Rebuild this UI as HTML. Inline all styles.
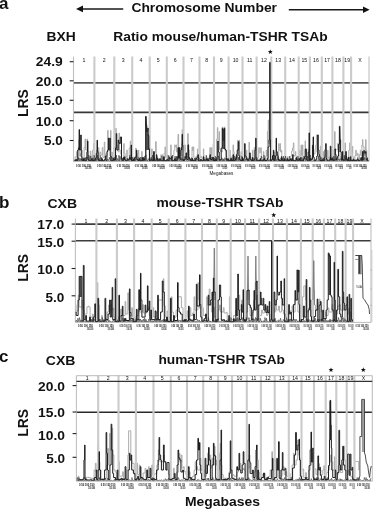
<!DOCTYPE html>
<html><head><meta charset="utf-8"><style>
html,body{margin:0;padding:0;background:#fff;width:376px;height:510px;overflow:hidden}
svg{display:block;will-change:transform;filter:blur(0.35px)}
text{font-family:"Liberation Sans", sans-serif;fill:#111}
</style></head><body>
<svg width="376" height="510" viewBox="0 0 376 510">
<text x="-1" y="8.8" font-size="17" font-weight="bold">a</text>
<text x="131.4" y="12.2" font-size="13.3" textLength="145.6" lengthAdjust="spacingAndGlyphs" font-weight="bold">Chromosome Number</text>
<line x1="82" y1="8.9" x2="123.2" y2="8.9" stroke="#1a1a1a" stroke-width="1.5"/><path d="M76,8.9 L83,5.6 L83,12.2 Z" fill="#111"/>
<line x1="288.8" y1="9.7" x2="364" y2="9.7" stroke="#1a1a1a" stroke-width="1.5"/><path d="M369.6,9.7 L363,6.4 L363,13 Z" fill="#111"/>
<text x="46.5" y="40.7" font-size="13" textLength="29.2" lengthAdjust="spacingAndGlyphs" font-weight="bold">BXH</text>
<text x="113.3" y="40.8" font-size="13" textLength="214.3" lengthAdjust="spacingAndGlyphs" font-weight="bold">Ratio mouse/human-TSHR TSAb</text>
<text x="-1" y="207.6" font-size="17" font-weight="bold">b</text>
<text x="47.5" y="207.6" font-size="13" textLength="29.6" lengthAdjust="spacingAndGlyphs" font-weight="bold">CXB</text>
<text x="156.5" y="207.2" font-size="13" textLength="127" lengthAdjust="spacingAndGlyphs" font-weight="bold">mouse-TSHR TSAb</text>
<text x="-1" y="362.2" font-size="17" font-weight="bold">c</text>
<text x="45.8" y="365" font-size="13" textLength="29.6" lengthAdjust="spacingAndGlyphs" font-weight="bold">CXB</text>
<text x="158.4" y="364.3" font-size="13" textLength="126.6" lengthAdjust="spacingAndGlyphs" font-weight="bold">human-TSHR TSAb</text>
<text x="185" y="506" font-size="13.2" textLength="75" lengthAdjust="spacingAndGlyphs" font-weight="bold">Megabases</text>
<text x="209.5" y="174.6" font-size="5" fill="#555" textLength="23.9" lengthAdjust="spacingAndGlyphs">Megabases</text>
<text transform="translate(27.6,103.2) rotate(-90)" font-size="13.8" font-weight="bold" text-anchor="middle">LRS</text>
<text transform="translate(27.6,267.9) rotate(-90)" font-size="13.8" font-weight="bold" text-anchor="middle">LRS</text>
<text transform="translate(27.6,422.9) rotate(-90)" font-size="13.8" font-weight="bold" text-anchor="middle">LRS</text>
<line x1="73.5" y1="82.95" x2="369" y2="82.95" stroke="#5c5c5c" stroke-width="1.8"/>
<line x1="73.5" y1="112.4" x2="369" y2="112.4" stroke="#383838" stroke-width="1.6"/>
<polyline points="74.50,159.5 75.01,159.5 75.01,156.9 75.45,156.9 75.45,156.9 76.48,156.9 76.48,151.5 76.89,151.5 76.89,160.4 77.80,160.4 77.80,159.5 78.70,159.5 78.70,140.0 79.30,140.0 79.30,156.0 80.70,156.0 80.70,153.5 81.70,153.5 81.70,150.0 82.22,150.0 82.22,160.1 83.28,160.1 83.28,159.5 84.13,159.5 84.13,147.5 85.03,147.5 85.03,139.0 85.60,139.0 85.60,150.0 87.00,150.0 87.00,139.0 87.48,139.0 87.48,151.1 88.08,151.1 88.08,156.0 88.81,156.0 88.81,159.3 90.28,159.3 90.28,151.0 90.81,151.0 90.81,155.7 91.51,155.7 91.51,159.5 92.70,159.5 92.70,150.0 93.70,150.0 93.70,143.6 94.22,143.6 94.22,156.4 94.97,156.4 94.97,159.5 96.03,159.5 96.03,157.2 96.78,157.2 96.78,150.0 97.24,150.0 97.24,159.7 98.36,159.7 98.36,147.5 98.88,147.5 98.88,154.3 100.22,154.3 100.22,152.0 100.81,152.0 100.81,154.9 102.28,154.9 102.28,147.5 102.87,147.5 102.87,157.4 104.27,157.4 104.27,142.0 104.81,142.0 104.81,153.7 105.51,153.7 105.51,156.0 106.67,156.0 106.67,155.7 107.62,155.7 107.62,130.3 108.11,130.3 108.11,145.7 108.81,145.7 108.81,150.0 109.83,150.0 109.83,149.3 110.58,149.3 110.58,130.3 110.98,130.3 110.98,157.6 111.82,157.6 111.82,152.0 112.22,152.0 112.22,155.7 112.97,155.7 112.97,159.5 114.06,159.5 114.06,146.3 114.54,146.3 114.54,154.2 115.66,154.2 115.66,128.3 116.23,128.3 116.23,145.0 117.30,145.0 117.30,150.0 118.18,150.0 118.18,151.8 119.02,151.8 119.02,133.0 119.44,133.0 119.44,150.0 120.30,150.0 120.30,153.9 121.30,153.9 121.30,158.6 122.30,158.6 122.30,160.0 123.70,160.0 123.70,143.6 124.22,143.6 124.22,153.0 124.97,153.0 124.97,156.0 125.72,156.0 125.72,159.6 126.78,159.6 126.78,150.0 127.22,150.0 127.22,160.2 128.28,160.2 128.28,158.6 129.24,158.6 129.24,147.9 130.28,147.9 130.28,141.0 130.87,141.0 130.87,156.0 131.72,156.0 131.72,159.0 132.47,159.0 132.47,159.5 133.70,159.5 133.70,157.0 134.30,157.0 134.30,159.5 135.70,159.5 135.70,148.2 136.19,148.2 136.19,153.0 136.84,153.0 136.84,158.6 137.75,158.6 137.75,154.7 138.41,154.7 138.41,150.2 138.81,150.2 138.81,160.6 139.79,160.6 139.79,159.5 140.66,159.5 140.66,159.2 141.62,159.2 141.62,151.5 142.14,151.5 142.14,160.7 143.26,160.7 143.26,159.5 143.72,159.5 143.72,160.0 144.78,160.0 144.78,156.0 145.22,156.0 145.22,159.9 146.28,159.9 146.28,145.0 146.81,145.0 146.81,147.2 148.28,147.2 148.28,135.6 148.87,135.6 148.87,150.0 149.74,150.0 149.74,158.3 150.54,158.3 150.54,159.7 151.66,159.7 151.66,148.9 152.23,148.9 152.23,158.6 153.29,158.6 153.29,160.0 154.64,160.0 154.64,152.3 155.61,152.3 155.61,141.6 156.23,141.6 156.23,156.0 157.30,156.0 157.30,160.0 158.70,160.0 158.70,159.5 159.77,159.5 159.77,159.3 160.87,159.3 160.87,154.7 161.39,154.7 161.39,156.8 162.31,156.8 162.31,154.7 162.80,154.7 162.80,159.5 164.09,159.5 164.09,153.4 164.94,153.4 164.94,146.9 165.50,146.9 165.50,157.4 166.47,157.4 166.47,159.6 167.73,159.6 167.73,159.5 168.70,159.5 168.70,155.9 169.30,155.9 169.30,156.3 170.70,156.3 170.70,144.9 171.22,144.9 171.22,160.3 172.28,160.3 172.28,157.4 173.08,157.4 173.08,155.2 173.92,155.2 173.92,150.3 174.75,150.3 174.75,144.9 175.19,144.9 175.19,146.8 176.11,146.8 176.11,144.9 176.60,144.9 176.60,152.0 178.00,152.0 178.00,134.3 178.60,134.3 178.60,150.0 179.56,150.0 179.56,152.3 180.41,152.3 180.41,156.0 181.46,156.0 181.46,143.6 182.11,143.6 182.11,129.6 182.51,129.6 182.51,150.0 183.30,150.0 183.30,150.8 184.70,150.8 184.70,144.9 185.19,144.9 185.19,158.0 186.11,158.0 186.11,157.4 186.86,157.4 186.86,157.1 187.66,157.1 187.66,133.6 188.23,133.6 188.23,150.0 189.22,150.0 189.22,158.9 190.28,158.9 190.28,158.6 190.77,158.6 190.77,159.9 192.03,159.9 192.03,146.9 192.50,146.9 192.50,150.6 193.41,150.6 193.41,146.9 193.78,146.9 193.78,157.8 194.38,157.8 194.38,158.6 195.03,158.6 195.03,159.5 196.08,159.5 196.08,156.0 196.50,156.0 196.50,157.2 197.41,157.2 197.41,148.9 197.78,148.9 197.78,155.1 198.38,155.1 198.38,158.6 199.36,158.6 199.36,140.9 199.81,140.9 199.81,157.7 200.79,157.7 200.79,156.0 201.26,156.0 201.26,157.7 202.13,157.7 202.13,159.0 203.34,159.0 203.34,148.9 203.78,148.9 203.78,157.5 204.38,157.5 204.38,158.6 205.01,158.6 205.01,160.2 205.99,160.2 205.99,156.7 206.47,156.7 206.47,160.6 207.73,160.6 207.73,159.5 208.77,159.5 208.77,157.8 209.87,157.8 209.87,147.6 210.39,147.6 210.39,155.5 211.31,155.5 211.31,147.6 211.80,147.6 211.80,157.4 213.20,157.4 213.20,143.6 213.80,143.6 213.80,157.4 214.72,157.4 214.72,160.7 215.78,160.7 215.78,158.6 216.56,158.6 216.56,139.2 217.36,139.2 217.36,127.6 217.87,127.6 217.87,140.0 219.06,140.0 219.06,131.6 219.60,131.6 219.60,150.0 220.48,150.0 220.48,151.5 221.08,151.5 221.08,152.0 222.27,152.0 222.27,127.0 222.90,127.0 222.90,145.0 224.30,145.0 224.30,127.0 224.87,127.0 224.87,150.0 225.83,150.0 225.83,156.7 226.81,156.7 226.81,160.7 227.79,160.7 227.79,159.5 228.70,159.5 228.70,159.2 229.70,159.2 229.70,150.2 230.22,150.2 230.22,155.8 230.97,155.8 230.97,158.6 232.13,158.6 232.13,157.9 233.03,157.9 233.03,144.9 233.48,144.9 233.48,151.6 234.08,151.6 234.08,157.4 234.72,157.4 234.72,159.0 235.47,159.0 235.47,159.5 236.70,159.5 236.70,153.8 237.70,153.8 237.70,140.2 238.19,140.2 238.19,150.0 239.11,150.0 239.11,140.2 239.60,140.2 239.60,156.0 241.00,156.0 241.00,151.5 241.48,151.5 241.48,155.8 242.08,155.8 242.08,158.6 242.72,158.6 242.72,159.5 243.78,159.5 243.78,158.6 244.26,158.6 244.26,160.2 245.47,160.2 245.47,159.1 246.34,159.1 246.34,150.2 246.81,150.2 246.81,159.8 247.79,159.8 247.79,157.4 248.18,157.4 248.18,157.9 249.02,157.9 249.02,142.2 249.36,142.2 249.36,159.1 250.14,159.1 250.14,156.0 250.53,156.0 250.53,159.1 251.30,159.1 251.30,160.2 252.37,160.2 252.37,150.2 252.90,150.2 252.90,158.6 254.23,158.6 254.23,147.6 254.80,147.6 254.80,157.4 255.80,157.4 255.80,159.8 257.20,159.8 257.20,158.6 258.02,158.6 258.02,156.9 258.77,156.9 258.77,147.6 259.30,147.6 259.30,152.7 260.70,152.7 260.70,147.6 261.30,147.6 261.30,157.4 262.24,157.4 262.24,157.8 263.36,157.8 263.36,151.5 263.81,151.5 263.81,160.1 264.79,160.1 264.79,158.6 265.52,158.6 265.52,156.6 266.27,156.6 266.27,150.0 266.67,150.0 266.67,156.4 267.44,156.4 267.44,131.6 268.23,131.6 268.23,120.0 268.77,120.0 268.77,143.3 270.03,143.3 270.03,131.6 270.51,131.6 270.51,150.0 271.23,150.0 271.23,159.7 272.27,159.7 272.27,158.6 272.80,158.6 272.80,159.1 274.20,159.1 274.20,152.0 274.73,152.0 274.73,158.6 275.48,158.6 275.48,159.5 276.70,159.5 276.70,151.1 277.30,151.1 277.30,155.4 278.70,155.4 278.70,143.6 279.19,143.6 279.19,150.2 280.11,150.2 280.11,143.6 280.51,143.6 280.51,152.0 281.42,152.0 281.42,150.2 281.81,150.2 281.81,160.4 282.79,160.4 282.79,158.6 283.23,158.6 283.23,160.3 284.27,160.3 284.27,156.0 284.80,156.0 284.80,159.5 285.81,159.5 285.81,160.3 287.29,160.3 287.29,156.7 287.81,156.7 287.81,160.6 288.79,160.6 288.79,159.5 289.70,159.5 289.70,159.1 290.70,159.1 290.70,156.0 291.61,156.0 291.61,151.0 292.47,151.0 292.47,148.0 293.34,148.0 293.34,142.9 293.87,142.9 293.87,156.0 294.88,156.0 294.88,155.0 295.44,155.0 295.44,151.5 295.81,151.5 295.81,156.3 296.51,156.3 296.51,159.5 297.30,159.5 297.30,159.9 298.70,159.9 298.70,158.6 299.54,158.6 299.54,150.1 300.00,150.1 300.00,159.7 301.07,159.7 301.07,144.9 301.51,144.9 301.51,155.3 302.49,155.3 302.49,144.9 302.89,144.9 302.89,159.4 303.81,159.4 303.81,156.0 304.45,156.0 304.45,149.7 305.11,149.7 305.11,140.9 305.48,140.9 305.48,151.0 306.08,151.0 306.08,152.0 306.81,152.0 306.81,157.8 308.29,157.8 308.29,148.9 308.81,148.9 308.81,157.8 309.79,157.8 309.79,157.4 310.23,157.4 310.23,159.8 311.27,159.8 311.27,158.6 311.73,158.6 311.73,158.7 312.77,158.7 312.77,150.0 313.23,150.0 313.23,153.5 314.00,153.5 314.00,153.9 315.07,153.9 315.07,148.9 315.79,148.9 315.79,145.0 316.42,145.0 316.42,134.9 316.87,134.9 316.87,152.0 317.73,152.0 317.73,155.9 318.48,155.9 318.48,158.6 319.24,158.6 319.24,159.5 320.36,159.5 320.36,146.2 320.87,146.2 320.87,157.4 321.77,157.4 321.77,160.0 323.03,160.0 323.03,151.5 323.48,151.5 323.48,155.9 324.08,155.9 324.08,158.6 325.02,158.6 325.02,154.9 325.77,154.9 325.77,150.0 326.28,150.0 326.28,157.9 327.62,157.9 327.62,150.2 328.06,150.2 328.06,157.0 328.62,157.0 328.62,158.6 329.23,158.6 329.23,160.3 330.27,160.3 330.27,156.0 330.71,156.0 330.71,160.0 331.69,160.0 331.69,154.7 332.17,154.7 332.17,158.6 332.98,158.6 332.98,159.6 333.82,159.6 333.82,150.0 334.56,150.0 334.56,131.6 335.10,131.6 335.10,150.0 336.54,150.0 336.54,149.7 337.58,149.7 337.58,143.6 338.17,143.6 338.17,152.0 338.98,152.0 338.98,159.9 339.82,159.9 339.82,158.6 340.52,158.6 340.52,158.2 341.27,158.2 341.27,156.0 341.80,156.0 341.80,159.5 343.02,159.5 343.02,158.8 343.77,158.8 343.77,157.4 344.42,157.4 344.42,155.1 345.02,155.1 345.02,142.9 345.37,142.9 345.37,156.1 346.13,156.1 346.13,156.0 346.56,156.0 346.56,158.8 347.75,158.8 347.75,158.6 348.66,158.6 348.66,150.3 349.62,150.3 349.62,142.9 350.17,142.9 350.17,157.4 351.43,157.4 351.43,152.6 352.33,152.6 352.33,146.2 352.78,146.2 352.78,156.9 353.38,156.9 353.38,158.6 353.98,158.6 353.98,160.7 354.82,160.7 354.82,156.0 355.70,156.0 355.70,150.2 356.28,150.2 356.28,155.3 357.56,155.3 357.56,153.3 358.12,153.3 358.12,159.9 359.40,159.9 359.40,154.8 360.32,154.8 360.32,150.2 360.87,150.2 360.87,156.0 361.92,156.0 361.92,145.0 362.45,145.0 362.45,139.6 362.93,139.6 362.93,146.5 364.03,146.5 364.03,155.1 365.57,155.1 365.57,139.6 366.08,139.6 366.08,150.0 366.80,150.0 366.80,158.6 367.80,158.6 367.80,159.5 368.50,159.5" fill="none" stroke="#acacac" stroke-width="1.0" stroke-linejoin="round"/>
<line x1="73.5" y1="56.5" x2="73.5" y2="161.5" stroke="#c0c0c0" stroke-width="1.1"/>
<line x1="94.4" y1="56.5" x2="94.4" y2="161.5" stroke="#cbcbcb" stroke-width="2.1"/>
<line x1="114.3" y1="56.5" x2="114.3" y2="161.5" stroke="#cbcbcb" stroke-width="2.1"/>
<line x1="132.2" y1="56.5" x2="132.2" y2="161.5" stroke="#cbcbcb" stroke-width="2.1"/>
<line x1="149.7" y1="56.5" x2="149.7" y2="161.5" stroke="#cbcbcb" stroke-width="2.1"/>
<line x1="166.8" y1="56.5" x2="166.8" y2="161.5" stroke="#cbcbcb" stroke-width="2.1"/>
<line x1="183.5" y1="56.5" x2="183.5" y2="161.5" stroke="#cbcbcb" stroke-width="2.1"/>
<line x1="199.5" y1="56.5" x2="199.5" y2="161.5" stroke="#cbcbcb" stroke-width="2.1"/>
<line x1="214" y1="56.5" x2="214" y2="161.5" stroke="#cbcbcb" stroke-width="2.1"/>
<line x1="228.6" y1="56.5" x2="228.6" y2="161.5" stroke="#cbcbcb" stroke-width="2.1"/>
<line x1="242.5" y1="56.5" x2="242.5" y2="161.5" stroke="#cbcbcb" stroke-width="2.1"/>
<line x1="256.6" y1="56.5" x2="256.6" y2="161.5" stroke="#cbcbcb" stroke-width="2.1"/>
<line x1="271.3" y1="56.5" x2="271.3" y2="161.5" stroke="#cbcbcb" stroke-width="2.1"/>
<line x1="285.2" y1="56.5" x2="285.2" y2="161.5" stroke="#cbcbcb" stroke-width="2.1"/>
<line x1="298.7" y1="56.5" x2="298.7" y2="161.5" stroke="#cbcbcb" stroke-width="2.1"/>
<line x1="309.9" y1="56.5" x2="309.9" y2="161.5" stroke="#cbcbcb" stroke-width="2.1"/>
<line x1="321.8" y1="56.5" x2="321.8" y2="161.5" stroke="#cbcbcb" stroke-width="2.1"/>
<line x1="332.4" y1="56.5" x2="332.4" y2="161.5" stroke="#cbcbcb" stroke-width="2.1"/>
<line x1="343.4" y1="56.5" x2="343.4" y2="161.5" stroke="#cbcbcb" stroke-width="2.1"/>
<line x1="351.1" y1="56.5" x2="351.1" y2="161.5" stroke="#cbcbcb" stroke-width="2.1"/>
<line x1="369" y1="56.5" x2="369" y2="161.5" stroke="#c0c0c0" stroke-width="1.1"/>
<polygon points="145.4,117 146.3,116.5 147.4,131 148.7,135.5 149.2,150 145.4,150" fill="#505050"/>
<polygon points="222.4,129 224.8,129 225,149 222.4,149" fill="#505050"/>
<polygon points="339.2,127 340.1,126.5 340.6,141 340.3,152 339.2,152" fill="#505050"/>
<polyline points="74.00,161.1 74.35,160.1 75.51,161.1 75.86,159.1 77.07,161.1 77.42,160.1 78.28,161.1 78.63,157.6 79.61,161.1 79.96,158.1 80.89,161.1 81.24,158.6 81.92,161.1 82.27,158.6 83.52,161.1 83.87,157.6 85.17,161.1 85.52,157.6 86.77,161.1 87.12,157.1 88.40,161.1 88.75,155.1 90.10,161.1 90.45,156.1 91.21,161.1 91.56,160.1 92.66,161.1 93.01,157.6 93.77,161.1 94.12,155.1 95.03,161.1 95.38,159.6 95.95,161.1 96.30,158.6 97.08,161.1 97.43,155.1 98.70,161.1 99.05,158.1 99.79,161.1 100.14,155.1 100.90,161.1 101.25,157.1 101.91,161.1 102.26,159.1 103.16,161.1 103.51,160.1 104.87,161.1 105.22,160.6 106.25,161.1 106.60,160.1 107.49,161.1 107.84,159.1 108.97,161.1 109.32,157.1 110.64,161.1 110.99,156.1 112.21,161.1 112.56,157.6 113.93,161.1 114.28,157.1 114.90,161.1 115.25,158.6 116.05,161.1 116.40,155.1 116.99,161.1 117.34,158.6 118.53,161.1 118.88,155.1 119.62,161.1 119.97,156.1 120.93,161.1 121.28,160.6 122.06,161.1 122.41,158.1 123.84,161.1 124.19,159.1 125.19,161.1 125.54,160.6 126.86,161.1 127.21,158.1 128.36,161.1 128.71,160.1 129.48,161.1 129.83,155.1 131.00,161.1 131.35,159.6 131.99,161.1 132.34,157.1 133.01,161.1 133.36,158.6 133.98,161.1 134.33,158.1 135.47,161.1 135.82,157.1 137.07,161.1 137.42,159.1 138.47,161.1 138.82,157.1 140.27,161.1 140.62,157.1 141.70,161.1 142.05,157.1 143.17,161.1 143.52,157.6 144.35,161.1 144.70,158.1 145.61,161.1 145.96,155.1 146.81,161.1 147.16,160.1 147.82,161.1 148.17,158.6 149.60,161.1 149.95,158.1 150.87,161.1 151.22,157.1 152.19,161.1 152.54,155.1 153.40,161.1 153.75,156.1 154.35,161.1 154.70,157.6 156.02,161.1 156.37,160.6 157.12,161.1 157.47,158.1 158.16,161.1 158.51,158.6 159.66,161.1 160.01,160.1 161.45,161.1 161.80,156.1 163.14,161.1 163.49,158.6 164.39,161.1 164.74,160.6 166.05,161.1 166.40,159.6 167.85,161.1 168.20,155.1 169.32,161.1 169.67,160.1 170.54,161.1 170.89,158.6 172.03,161.1 172.38,155.1 173.08,161.1 173.43,160.1 174.58,161.1 174.93,156.1 175.84,161.1 176.19,156.1 176.97,161.1 177.32,157.1 177.92,161.1 178.27,156.1 179.26,161.1 179.61,160.1 180.77,161.1 181.12,157.6 181.88,161.1 182.23,158.6 183.24,161.1 183.59,159.1 184.55,161.1 184.90,156.1 186.09,161.1 186.44,160.6 187.86,161.1 188.21,157.1 188.91,161.1 189.26,159.1 190.02,161.1 190.37,160.1 191.28,161.1 191.63,157.6 192.97,161.1 193.32,159.6 194.22,161.1 194.57,158.1 195.59,161.1 195.94,157.6 196.95,161.1 197.30,159.1 198.49,161.1 198.84,157.6 200.27,161.1 200.62,159.1 201.45,161.1 201.80,160.6 202.81,161.1 203.16,159.6 204.25,161.1 204.60,159.1 205.93,161.1 206.28,155.1 207.72,161.1 208.07,158.6 209.37,161.1 209.72,160.6 210.30,161.1 210.65,157.6 211.34,161.1 211.69,157.1 212.74,161.1 213.09,157.1 214.07,161.1 214.42,158.1 214.97,161.1 215.32,156.1 215.92,161.1 216.27,159.1 216.87,161.1 217.22,158.1 218.14,161.1 218.49,156.1 219.37,161.1 219.72,160.1 220.29,161.1 220.64,160.1 221.32,161.1 221.67,157.6 222.53,161.1 222.88,158.6 223.47,161.1 223.82,159.1 224.47,161.1 224.82,157.6 226.22,161.1 226.57,158.1 227.94,161.1 228.29,159.6 228.87,161.1 229.22,159.6 230.55,161.1 230.90,157.6 231.70,161.1 232.05,158.6 233.15,161.1 233.50,156.1 234.47,161.1 234.82,156.1 235.93,161.1 236.28,157.1 236.96,161.1 237.31,155.1 238.21,161.1 238.56,157.1 239.15,161.1 239.50,157.1 240.53,161.1 240.88,160.1 241.50,161.1 241.85,156.1 243.24,161.1 243.59,160.1 244.79,161.1 245.14,159.1 246.16,161.1 246.51,157.6 247.58,161.1 247.93,158.6 249.31,161.1 249.66,159.6 250.95,161.1 251.30,160.6 252.63,161.1 252.98,158.1 253.87,161.1 254.22,160.6 255.25,161.1 255.60,159.6 256.33,161.1 256.68,157.1 257.84,161.1 258.19,160.6 259.23,161.1 259.58,160.1 260.98,161.1 261.33,156.1 262.21,161.1 262.56,159.6 263.64,161.1 263.99,155.1 265.43,161.1 265.78,160.1 266.98,161.1 267.33,157.6 268.36,161.1 268.71,159.6 269.40,161.1 269.75,159.6 271.16,161.1 271.51,160.1 272.23,161.1 272.58,155.1 273.92,161.1 274.27,155.1 275.42,161.1 275.77,159.1 276.85,161.1 277.20,158.6 278.16,161.1 278.51,156.1 279.22,161.1 279.57,159.1 280.61,161.1 280.96,158.1 281.83,161.1 282.18,158.1 282.97,161.1 283.32,156.1 284.04,161.1 284.39,160.1 285.19,161.1 285.54,156.1 286.75,161.1 287.10,160.1 287.96,161.1 288.31,159.6 289.02,161.1 289.37,156.1 290.20,161.1 290.55,159.6 291.34,161.1 291.69,159.1 293.13,161.1 293.48,160.1 294.71,161.1 295.06,160.6 296.31,161.1 296.66,157.6 297.52,161.1 297.87,156.1 298.68,161.1 299.03,158.1 300.16,161.1 300.51,157.1 301.37,161.1 301.72,157.1 302.47,161.1 302.82,158.6 303.73,161.1 304.08,156.1 305.39,161.1 305.74,157.6 307.00,161.1 307.35,156.1 307.92,161.1 308.27,160.1 309.04,161.1 309.39,160.1 310.10,161.1 310.45,155.1 311.53,161.1 311.88,160.6 312.71,161.1 313.06,160.6 314.07,161.1 314.42,160.6 315.46,161.1 315.81,160.1 316.82,161.1 317.17,159.6 318.41,161.1 318.76,156.1 319.70,161.1 320.05,160.1 321.35,161.1 321.70,157.6 323.02,161.1 323.37,158.1 324.54,161.1 324.89,158.6 326.04,161.1 326.39,158.1 327.27,161.1 327.62,160.6 328.57,161.1 328.92,160.6 329.97,161.1 330.32,157.1 330.90,161.1 331.25,158.1 331.94,161.1 332.29,157.1 333.39,161.1 333.74,156.1 334.48,161.1 334.83,160.6 335.41,161.1 335.76,159.1 336.46,161.1 336.81,157.6 337.75,161.1 338.10,158.6 339.52,161.1 339.87,159.1 341.30,161.1 341.65,158.1 342.83,161.1 343.18,160.6 343.86,161.1 344.21,155.1 345.24,161.1 345.59,157.6 346.21,161.1 346.56,156.1 347.23,161.1 347.58,159.1 348.43,161.1 348.78,157.1 350.04,161.1 350.39,160.1 351.39,161.1 351.74,160.1 352.77,161.1 353.12,158.6 354.50,161.1 354.85,159.6 355.68,161.1 356.03,159.6 357.23,161.1 357.58,157.6 358.42,161.1 358.77,160.1 360.04,161.1 360.39,157.6 361.47,161.1 361.82,160.6 363.20,161.1 363.55,159.1 364.22,161.1 364.57,157.6 365.58,161.1 365.93,160.6 367.27,161.1 367.62,157.1" fill="none" stroke="#2a2a2a" stroke-width="0.55"/>
<polyline points="74.50,160.6 74.72,160.6 74.72,160.6 75.78,160.6 75.78,159.5 76.30,159.5 76.30,160.4 77.70,160.4 77.70,150.0 78.45,150.0 78.45,147.9 79.11,147.9 79.11,129.6 79.51,129.6 79.51,150.0 80.70,150.0 80.70,135.0 81.24,135.0 81.24,156.7 81.98,156.7 81.98,160.4 82.58,160.4 82.58,160.6 83.70,160.6 83.70,158.6 84.22,158.6 84.22,160.6 84.97,160.6 84.97,160.8 86.20,160.8 86.20,157.4 86.92,157.4 86.92,151.8 87.52,151.8 87.52,141.0 87.94,141.0 87.94,159.5 88.72,159.5 88.72,160.4 89.47,160.4 89.47,160.6 90.70,160.6 90.70,160.1 91.70,160.1 91.70,158.6 92.22,158.6 92.22,160.8 92.97,160.8 92.97,160.8 94.03,160.8 94.03,160.4 94.78,160.4 94.78,159.5 95.54,159.5 95.54,158.1 96.30,158.1 96.30,153.3 97.07,153.3 97.07,140.2 97.48,140.2 97.48,151.5 98.08,151.5 98.08,159.5 98.72,159.5 98.72,160.4 99.47,160.4 99.47,160.6 100.70,160.6 100.70,160.5 101.70,160.5 101.70,158.6 102.30,158.6 102.30,160.9 103.70,160.9 103.70,160.6 104.53,160.6 104.53,159.4 105.28,159.4 105.28,156.0 105.75,156.0 105.75,160.2 106.94,160.2 106.94,151.5 107.76,151.5 107.76,150.0 108.42,150.0 108.42,138.0 108.81,138.0 108.81,149.9 109.79,149.9 109.79,138.0 110.24,138.0 110.24,156.0 110.98,156.0 110.98,160.6 111.58,160.6 111.58,160.6 112.22,160.6 112.22,160.7 113.28,160.7 113.28,158.6 113.72,158.6 113.72,159.6 114.78,159.6 114.78,159.5 115.53,159.5 115.53,147.9 116.28,147.9 116.28,133.6 116.80,133.6 116.80,150.0 118.20,150.0 118.20,140.0 118.71,140.0 118.71,142.4 119.41,142.4 119.41,143.6 120.32,143.6 120.32,137.0 120.74,137.0 120.74,137.0 121.51,137.0 121.51,159.5 122.22,159.5 122.22,160.7 123.28,160.7 123.28,157.4 123.68,157.4 123.68,159.4 124.52,159.4 124.52,156.7 124.89,156.7 124.89,159.7 125.55,159.7 125.55,160.6 126.70,160.6 126.70,160.3 127.70,160.3 127.70,159.5 128.70,159.5 128.70,159.3 129.70,159.3 129.70,157.4 130.19,157.4 130.19,159.2 131.11,159.2 131.11,145.0 131.51,145.0 131.51,160.6 132.53,160.6 132.53,160.5 133.28,160.5 133.28,159.5 133.72,159.5 133.72,160.4 134.78,160.4 134.78,157.4 135.56,157.4 135.56,156.8 136.36,156.8 136.36,150.2 136.87,150.2 136.87,159.5 137.80,159.5 137.80,160.4 139.20,160.4 139.20,158.6 139.72,158.6 139.72,160.7 140.78,160.7 140.78,160.6 141.30,160.6 141.30,160.7 142.70,160.7 142.70,157.4 143.22,157.4 143.22,160.2 144.28,160.2 144.28,159.5 144.99,159.5 144.99,156.2 145.69,156.2 145.69,116.3 146.08,116.3 146.08,125.0 146.71,125.0 146.71,131.6 147.76,131.6 147.76,128.0 148.18,128.0 148.18,135.6 148.81,135.6 148.81,148.9 149.51,148.9 149.51,160.6 150.70,160.6 150.70,160.1 151.70,160.1 151.70,159.5 152.28,159.5 152.28,160.7 153.62,160.7 153.62,151.5 154.23,151.5 154.23,160.2 155.24,160.2 155.24,160.4 156.36,160.4 156.36,154.7 156.81,154.7 156.81,158.0 157.51,158.0 157.51,160.6 158.70,160.6 158.70,160.3 159.70,160.3 159.70,158.6 160.30,158.6 160.30,160.3 161.70,160.3 161.70,160.2 162.28,160.2 162.28,160.8 163.62,160.8 163.62,156.7 164.23,156.7 164.23,160.6 165.25,160.6 165.25,160.8 166.42,160.8 166.42,160.4 167.25,160.4 167.25,159.5 167.80,159.5 167.80,160.4 169.20,160.4 169.20,157.4 169.81,157.4 169.81,158.7 171.28,158.7 171.28,156.7 171.81,156.7 171.81,160.7 172.79,160.7 172.79,160.6 173.30,160.6 173.30,160.6 174.70,160.6 174.70,158.6 175.22,158.6 175.22,160.8 176.28,160.8 176.28,160.2 177.13,160.2 177.13,156.8 178.03,156.8 178.03,147.6 178.50,147.6 178.50,158.2 179.41,158.2 179.41,147.6 179.87,147.6 179.87,159.5 180.85,159.5 180.85,150.0 181.46,150.0 181.46,147.4 182.11,147.4 182.11,134.3 182.45,134.3 182.45,145.0 182.95,145.0 182.95,160.6 183.72,160.6 183.72,160.4 184.32,160.4 184.32,159.5 185.13,159.5 185.13,157.2 186.03,157.2 186.03,152.9 186.60,152.9 186.60,159.5 188.00,159.5 188.00,144.9 188.60,144.9 188.60,157.4 189.56,157.4 189.56,159.0 190.41,159.0 190.41,160.2 191.19,160.2 191.19,160.5 192.11,160.5 192.11,158.5 192.56,158.5 192.56,160.7 193.75,160.7 193.75,160.2 194.30,160.2 194.30,160.7 195.70,160.7 195.70,158.6 196.77,158.6 196.77,157.9 197.87,157.9 197.87,154.7 198.36,154.7 198.36,160.6 198.91,160.6 198.91,160.6 199.56,160.6 199.56,160.8 200.75,160.8 200.75,159.5 201.26,159.5 201.26,160.1 202.13,160.1 202.13,160.8 203.34,160.8 203.34,156.7 203.81,156.7 203.81,160.2 204.79,160.2 204.79,160.2 205.70,160.2 205.70,160.2 206.70,160.2 206.70,158.6 207.22,158.6 207.22,160.3 207.97,160.3 207.97,160.6 209.09,160.6 209.09,158.2 209.94,158.2 209.94,154.7 210.39,154.7 210.39,159.4 211.04,159.4 211.04,159.5 212.03,159.5 212.03,159.0 212.78,159.0 212.78,157.4 213.30,157.4 213.30,160.6 214.22,160.6 214.22,160.8 215.28,160.8 215.28,159.5 215.72,159.5 215.72,160.5 216.78,160.5 216.78,157.4 217.70,157.4 217.70,141.0 218.30,141.0 218.30,152.0 219.22,152.0 219.22,160.0 220.28,160.0 220.28,159.5 221.20,159.5 221.20,148.0 222.27,148.0 222.27,128.3 222.87,128.3 222.87,140.0 224.27,140.0 224.27,128.3 224.78,128.3 224.78,149.0 225.44,149.0 225.44,150.2 226.30,150.2 226.30,160.2 227.70,160.2 227.70,158.6 228.22,158.6 228.22,160.0 228.97,160.0 228.97,160.6 229.72,160.6 229.72,160.8 230.78,160.8 230.78,158.6 231.23,158.6 231.23,160.4 232.00,160.4 232.00,160.6 233.07,160.6 233.07,154.7 233.56,154.7 233.56,160.6 234.75,160.6 234.75,160.2 235.56,160.2 235.56,158.7 236.36,158.7 236.36,154.7 237.23,154.7 237.23,150.0 238.27,150.0 238.27,141.6 238.87,141.6 238.87,156.0 239.72,156.0 239.72,159.8 240.47,159.8 240.47,160.2 241.19,160.2 241.19,160.6 242.11,160.6 242.11,157.4 242.48,157.4 242.48,160.6 243.32,160.6 243.32,159.5 243.96,159.5 243.96,158.1 244.61,158.1 244.61,143.6 245.10,143.6 245.10,156.0 246.06,156.0 246.06,158.4 246.91,158.4 246.91,159.5 247.74,159.5 247.74,160.4 248.86,160.4 248.86,158.5 249.66,158.5 249.66,152.9 250.23,152.9 250.23,159.5 251.22,159.5 251.22,160.7 252.28,160.7 252.28,157.4 252.72,157.4 252.72,160.8 253.78,160.8 253.78,160.2 254.42,160.2 254.42,158.8 255.02,158.8 255.02,150.0 255.69,150.0 255.69,138.2 256.05,138.2 256.05,159.5 256.64,159.5 256.64,160.4 257.76,160.4 257.76,160.2 258.54,160.2 258.54,160.0 259.00,160.0 259.00,160.5 260.07,160.5 260.07,158.5 260.56,158.5 260.56,160.5 261.40,160.5 261.40,160.6 262.23,160.6 262.23,160.8 263.30,160.8 263.30,159.7 264.07,159.7 264.07,158.5 264.56,158.5 264.56,160.7 265.75,160.7 265.75,160.2 266.23,160.2 266.23,160.5 267.27,160.5 267.27,158.6 268.13,158.6 268.13,147.0 269.03,147.0 269.03,140.0 269.72,140.0 269.72,62.3 270.05,62.3 270.05,140.0 270.43,140.0 270.43,160.6 271.02,160.6 271.02,160.1 271.77,160.1 271.77,159.5 272.56,159.5 272.56,156.0 273.36,156.0 273.36,150.2 273.81,150.2 273.81,160.6 274.79,160.6 274.79,158.6 275.45,158.6 275.45,156.0 276.11,156.0 276.11,138.2 276.51,138.2 276.51,152.0 277.18,152.0 277.18,154.7 277.81,154.7 277.81,158.7 278.51,158.7 278.51,160.2 279.26,160.2 279.26,160.6 280.47,160.6 280.47,160.4 281.34,160.4 281.34,156.7 281.81,156.7 281.81,159.7 282.51,159.7 282.51,160.2 283.23,160.2 283.23,160.8 284.27,160.8 284.27,158.6 284.73,158.6 284.73,160.2 285.48,160.2 285.48,160.2 286.56,160.2 286.56,160.1 287.36,160.1 287.36,158.5 287.81,158.5 287.81,160.8 288.79,160.8 288.79,160.6 289.70,160.6 289.70,159.7 290.70,159.7 290.70,158.6 291.28,158.6 291.28,160.5 292.62,160.5 292.62,154.7 293.14,154.7 293.14,160.4 294.26,160.4 294.26,160.2 294.75,160.2 294.75,160.8 295.94,160.8 295.94,157.7 296.47,157.7 296.47,159.9 297.37,159.9 297.37,160.2 298.70,160.2 298.70,160.2 299.70,160.2 299.70,158.6 300.30,158.6 300.30,160.5 301.30,160.5 301.30,160.6 302.30,160.6 302.30,160.9 303.70,160.9 303.70,158.6 304.70,158.6 304.70,156.7 305.70,156.7 305.70,148.9 306.30,148.9 306.30,159.5 307.23,159.5 307.23,160.5 308.27,160.5 308.27,152.0 309.06,152.0 309.06,132.9 309.45,132.9 309.45,160.4 310.50,160.4 310.50,158.6 310.98,158.6 310.98,159.4 311.58,159.4 311.58,159.5 312.45,159.5 312.45,145.2 313.11,145.2 313.11,136.9 313.51,136.9 313.51,157.4 314.23,157.4 314.23,160.8 315.27,160.8 315.27,160.2 316.02,160.2 316.02,159.1 316.77,159.1 316.77,156.0 317.70,156.0 317.70,134.9 318.24,134.9 318.24,150.0 318.98,150.0 318.98,154.5 319.58,154.5 319.58,156.7 320.19,156.7 320.19,160.8 321.11,160.8 321.11,160.2 321.56,160.2 321.56,160.8 322.75,160.8 322.75,159.5 323.23,159.5 323.23,160.6 324.27,160.6 324.27,157.4 324.99,157.4 324.99,149.7 325.69,149.7 325.69,143.6 326.17,143.6 326.17,158.6 327.06,158.6 327.06,160.3 328.25,160.3 328.25,160.2 329.24,160.2 329.24,160.0 330.29,160.0 330.29,146.2 330.87,146.2 330.87,159.5 332.20,159.5 332.20,158.6 332.69,158.6 332.69,160.3 333.61,160.3 333.61,160.2 334.01,160.2 334.01,160.2 334.99,160.2 334.99,148.9 335.39,148.9 335.39,154.5 336.05,154.5 336.05,159.5 337.02,159.5 337.02,158.0 337.77,158.0 337.77,156.0 338.56,156.0 338.56,144.2 339.36,144.2 339.36,126.3 339.87,126.3 339.87,140.0 340.65,140.0 340.65,152.0 341.24,152.0 341.24,160.1 342.36,160.1 342.36,151.5 342.78,151.5 342.78,159.5 343.39,159.5 343.39,160.3 344.31,160.3 344.31,160.2 345.02,160.2 345.02,157.0 345.77,157.0 345.77,151.5 346.30,151.5 346.30,159.5 347.23,159.5 347.23,160.8 348.27,160.8 348.27,157.4 348.81,157.4 348.81,160.8 350.29,160.8 350.29,156.7 350.87,156.7 350.87,160.2 351.77,160.2 351.77,160.6 353.03,160.6 353.03,159.5 353.56,159.5 353.56,160.7 354.75,160.7 354.75,160.4 355.30,160.4 355.30,160.8 356.70,160.8 356.70,159.9 357.70,159.9 357.70,159.6 358.30,159.6 358.30,160.7 359.70,160.7 359.70,160.2 360.52,160.2 360.52,159.8 361.27,159.8 361.27,157.4 361.67,157.4 361.67,160.6 362.44,160.6 362.44,151.5 362.81,151.5 362.81,159.3 363.79,159.3 363.79,150.5 364.28,150.5 364.28,153.1 365.62,153.1 365.62,151.5 366.06,151.5 366.06,159.7 366.83,159.7 366.83,158.6 367.23,158.6 367.23,160.8 368.27,160.8 368.27,160.4 368.50,160.4" fill="none" stroke="#1e1e1e" stroke-width="1.0" stroke-linejoin="round"/>
<text x="84.0" y="62.099999999999994" font-size="5.2" text-anchor="middle" fill="#3a3a3a">1</text>
<text x="104.3" y="62.099999999999994" font-size="5.2" text-anchor="middle" fill="#3a3a3a">2</text>
<text x="123.2" y="62.099999999999994" font-size="5.2" text-anchor="middle" fill="#3a3a3a">3</text>
<text x="140.9" y="62.099999999999994" font-size="5.2" text-anchor="middle" fill="#3a3a3a">4</text>
<text x="158.2" y="62.099999999999994" font-size="5.2" text-anchor="middle" fill="#3a3a3a">5</text>
<text x="175.2" y="62.099999999999994" font-size="5.2" text-anchor="middle" fill="#3a3a3a">6</text>
<text x="191.5" y="62.099999999999994" font-size="5.2" text-anchor="middle" fill="#3a3a3a">7</text>
<text x="206.8" y="62.099999999999994" font-size="5.2" text-anchor="middle" fill="#3a3a3a">8</text>
<text x="221.3" y="62.099999999999994" font-size="5.2" text-anchor="middle" fill="#3a3a3a">9</text>
<text x="235.6" y="62.099999999999994" font-size="5.2" text-anchor="middle" fill="#3a3a3a">10</text>
<text x="249.6" y="62.099999999999994" font-size="5.2" text-anchor="middle" fill="#3a3a3a">11</text>
<text x="264.0" y="62.099999999999994" font-size="5.2" text-anchor="middle" fill="#3a3a3a">12</text>
<text x="278.2" y="62.099999999999994" font-size="5.2" text-anchor="middle" fill="#3a3a3a">13</text>
<text x="291.9" y="62.099999999999994" font-size="5.2" text-anchor="middle" fill="#3a3a3a">14</text>
<text x="304.3" y="62.099999999999994" font-size="5.2" text-anchor="middle" fill="#3a3a3a">15</text>
<text x="315.9" y="62.099999999999994" font-size="5.2" text-anchor="middle" fill="#3a3a3a">16</text>
<text x="327.1" y="62.099999999999994" font-size="5.2" text-anchor="middle" fill="#3a3a3a">17</text>
<text x="337.9" y="62.099999999999994" font-size="5.2" text-anchor="middle" fill="#3a3a3a">18</text>
<text x="347.2" y="62.099999999999994" font-size="5.2" text-anchor="middle" fill="#3a3a3a">19</text>
<text x="360.1" y="62.099999999999994" font-size="5.2" text-anchor="middle" fill="#3a3a3a">X</text>
<line x1="69.7" y1="61.7" x2="73.5" y2="61.7" stroke="#222" stroke-width="1.1"/>
<text x="62.7" y="66.2" font-size="13" font-weight="bold" text-anchor="end" textLength="26.9" lengthAdjust="spacingAndGlyphs">24.9</text>
<line x1="69.7" y1="80.8" x2="73.5" y2="80.8" stroke="#222" stroke-width="1.1"/>
<text x="62.7" y="85.7" font-size="13" font-weight="bold" text-anchor="end" textLength="26.9" lengthAdjust="spacingAndGlyphs">20.0</text>
<line x1="69.7" y1="100.3" x2="73.5" y2="100.3" stroke="#222" stroke-width="1.1"/>
<text x="62.7" y="105.2" font-size="13" font-weight="bold" text-anchor="end" textLength="26.9" lengthAdjust="spacingAndGlyphs">15.0</text>
<line x1="69.7" y1="120.7" x2="73.5" y2="120.7" stroke="#222" stroke-width="1.1"/>
<text x="62.7" y="125.6" font-size="13" font-weight="bold" text-anchor="end" textLength="26.9" lengthAdjust="spacingAndGlyphs">10.0</text>
<line x1="69.7" y1="140.5" x2="73.5" y2="140.5" stroke="#222" stroke-width="1.1"/>
<text x="62.7" y="145.4" font-size="13" font-weight="bold" text-anchor="end" textLength="18.8" lengthAdjust="spacingAndGlyphs">5.0</text>
<line x1="73.5" y1="161.5" x2="369" y2="161.5" stroke="#aaa" stroke-width="0.8"/>
<text x="76.0" y="166.5" font-size="3.4" font-weight="bold" fill="#444" textLength="15.0" lengthAdjust="spacingAndGlyphs">0 50 100 150</text>
<text x="84.8" y="169.1" font-size="3.4" font-weight="bold" fill="#444" textLength="6.7" lengthAdjust="spacingAndGlyphs">150 200</text>
<text x="96.9" y="166.5" font-size="3.4" font-weight="bold" fill="#444" textLength="14.3" lengthAdjust="spacingAndGlyphs">0 50 100 150</text>
<text x="105.3" y="169.1" font-size="3.4" font-weight="bold" fill="#444" textLength="6.4" lengthAdjust="spacingAndGlyphs">150 200</text>
<text x="116.8" y="166.5" font-size="3.4" font-weight="bold" fill="#444" textLength="12.9" lengthAdjust="spacingAndGlyphs">0 50 100 150</text>
<text x="124.3" y="169.1" font-size="3.4" font-weight="bold" fill="#444" textLength="5.7" lengthAdjust="spacingAndGlyphs">150 200</text>
<text x="134.7" y="166.5" font-size="3.4" font-weight="bold" fill="#444" textLength="12.6" lengthAdjust="spacingAndGlyphs">0 50 100 150</text>
<text x="142.0" y="169.1" font-size="3.4" font-weight="bold" fill="#444" textLength="5.6" lengthAdjust="spacingAndGlyphs">150 200</text>
<text x="152.2" y="166.5" font-size="3.4" font-weight="bold" fill="#444" textLength="12.3" lengthAdjust="spacingAndGlyphs">0 50 100 150</text>
<text x="159.4" y="169.1" font-size="3.4" font-weight="bold" fill="#444" textLength="5.5" lengthAdjust="spacingAndGlyphs">150 200</text>
<text x="169.3" y="166.5" font-size="3.4" font-weight="bold" fill="#444" textLength="12.0" lengthAdjust="spacingAndGlyphs">0 50 100 150</text>
<text x="176.3" y="169.1" font-size="3.4" font-weight="bold" fill="#444" textLength="5.3" lengthAdjust="spacingAndGlyphs">150 200</text>
<text x="186.0" y="166.5" font-size="3.4" font-weight="bold" fill="#444" textLength="11.5" lengthAdjust="spacingAndGlyphs">0 50 100 150</text>
<text x="192.7" y="169.1" font-size="3.4" font-weight="bold" fill="#444" textLength="5.1" lengthAdjust="spacingAndGlyphs">150 200</text>
<text x="202.0" y="166.5" font-size="3.4" font-weight="bold" fill="#444" textLength="10.4" lengthAdjust="spacingAndGlyphs">0 50 100 150</text>
<text x="208.1" y="169.1" font-size="3.4" font-weight="bold" fill="#444" textLength="4.6" lengthAdjust="spacingAndGlyphs">150 200</text>
<text x="216.5" y="166.5" font-size="3.4" font-weight="bold" fill="#444" textLength="10.5" lengthAdjust="spacingAndGlyphs">0 50 100 150</text>
<text x="222.6" y="169.1" font-size="3.4" font-weight="bold" fill="#444" textLength="4.7" lengthAdjust="spacingAndGlyphs">150 200</text>
<text x="231.1" y="166.5" font-size="3.4" font-weight="bold" fill="#444" textLength="10.0" lengthAdjust="spacingAndGlyphs">0 50 100 150</text>
<text x="236.9" y="169.1" font-size="3.4" font-weight="bold" fill="#444" textLength="4.4" lengthAdjust="spacingAndGlyphs">150 200</text>
<text x="245.0" y="166.5" font-size="3.4" font-weight="bold" fill="#444" textLength="10.2" lengthAdjust="spacingAndGlyphs">0 50 100 150</text>
<text x="250.9" y="169.1" font-size="3.4" font-weight="bold" fill="#444" textLength="4.5" lengthAdjust="spacingAndGlyphs">150 200</text>
<text x="259.1" y="166.5" font-size="3.4" font-weight="bold" fill="#444" textLength="10.6" lengthAdjust="spacingAndGlyphs">0 50 100 150</text>
<text x="265.3" y="169.1" font-size="3.4" font-weight="bold" fill="#444" textLength="4.7" lengthAdjust="spacingAndGlyphs">150 200</text>
<text x="273.8" y="166.5" font-size="3.4" font-weight="bold" fill="#444" textLength="10.0" lengthAdjust="spacingAndGlyphs">0 50 100 150</text>
<text x="279.6" y="169.1" font-size="3.4" font-weight="bold" fill="#444" textLength="4.4" lengthAdjust="spacingAndGlyphs">150 200</text>
<text x="287.7" y="166.5" font-size="3.4" font-weight="bold" fill="#444" textLength="9.7" lengthAdjust="spacingAndGlyphs">0 50 100 150</text>
<text x="293.4" y="169.1" font-size="3.4" font-weight="bold" fill="#444" textLength="4.3" lengthAdjust="spacingAndGlyphs">150 200</text>
<text x="301.2" y="166.5" font-size="3.4" font-weight="bold" fill="#444" textLength="8.1" lengthAdjust="spacingAndGlyphs">0 50 100 150</text>
<text x="305.9" y="169.1" font-size="3.4" font-weight="bold" fill="#444" textLength="3.6" lengthAdjust="spacingAndGlyphs">150 200</text>
<text x="312.4" y="166.5" font-size="3.4" font-weight="bold" fill="#444" textLength="8.6" lengthAdjust="spacingAndGlyphs">0 50 100 150</text>
<text x="317.4" y="169.1" font-size="3.4" font-weight="bold" fill="#444" textLength="3.8" lengthAdjust="spacingAndGlyphs">150 200</text>
<text x="324.3" y="166.5" font-size="3.4" font-weight="bold" fill="#444" textLength="7.6" lengthAdjust="spacingAndGlyphs">0 50 100 150</text>
<text x="328.8" y="169.1" font-size="3.4" font-weight="bold" fill="#444" textLength="3.4" lengthAdjust="spacingAndGlyphs">150 200</text>
<text x="334.9" y="166.5" font-size="3.4" font-weight="bold" fill="#444" textLength="7.9" lengthAdjust="spacingAndGlyphs">0 50 100 150</text>
<text x="339.5" y="169.1" font-size="3.4" font-weight="bold" fill="#444" textLength="3.5" lengthAdjust="spacingAndGlyphs">150 200</text>
<text x="345.9" y="166.5" font-size="3.4" font-weight="bold" fill="#444" textLength="5.5" lengthAdjust="spacingAndGlyphs">0 50 100 150</text>
<text x="349.1" y="169.1" font-size="3.4" font-weight="bold" fill="#444" textLength="2.5" lengthAdjust="spacingAndGlyphs">150 200</text>
<text x="353.6" y="166.5" font-size="3.4" font-weight="bold" fill="#444" textLength="12.9" lengthAdjust="spacingAndGlyphs">0 50 100 150</text>
<text x="361.1" y="169.1" font-size="3.4" font-weight="bold" fill="#444" textLength="5.7" lengthAdjust="spacingAndGlyphs">150 200</text>
<line x1="75.4" y1="224.1" x2="371" y2="224.1" stroke="#3c3c3c" stroke-width="1.6"/>
<line x1="75.4" y1="240.7" x2="371" y2="240.7" stroke="#3c3c3c" stroke-width="1.6"/>
<polyline points="75.60,304.6 76.00,304.6 76.00,310.9 78.30,310.9 78.30,295.2 79.10,295.2 79.10,307.0 82.10,307.0 82.10,300.0 82.80,300.0 82.80,310.0 83.90,310.0 83.90,314.0 86.90,314.0 86.90,307.0 88.14,307.0 88.14,306.0 88.86,306.0 88.86,307.0 90.09,307.0 90.09,317.1 92.40,317.1 92.40,314.0 93.20,314.0 93.20,319.6 96.10,319.6 96.10,300.0 97.20,300.0 97.20,282.6 97.80,282.6 97.80,300.0 98.65,300.0 98.65,305.0 99.30,305.0 99.30,319.6 101.60,319.6 101.60,315.5 102.40,315.5 102.40,321.1 105.60,321.1 105.60,318.4 107.10,318.4 107.10,312.0 108.60,312.0 108.60,305.0 109.30,305.0 109.30,312.0 110.70,312.0 110.70,304.0 111.30,304.0 111.30,310.0 113.10,310.0 113.10,308.0 113.80,308.0 113.80,317.1 114.90,317.1 114.90,319.6 117.10,319.6 117.10,317.1 120.60,317.1 120.60,309.0 121.40,309.0 121.40,315.5 125.10,315.5 125.10,301.5 125.80,301.5 125.80,314.0 127.80,314.0 127.80,292.8 128.44,292.8 128.44,310.0 129.40,310.0 129.40,315.5 131.70,315.5 131.70,307.7 132.43,307.7 132.43,317.1 133.60,317.1 133.60,317.1 136.60,317.1 136.60,315.5 138.60,315.5 138.60,308.0 139.40,308.0 139.40,312.0 142.70,312.0 142.70,304.6 143.50,304.6 143.50,313.0 146.60,313.0 146.60,310.0 148.60,310.0 148.60,307.0 149.39,307.0 149.39,315.5 150.70,315.5 150.70,317.1 152.91,317.1 152.91,307.7 153.70,307.7 153.70,317.1 156.60,317.1 156.60,312.0 158.30,312.0 158.30,300.0 159.10,300.0 159.10,300.0 162.50,300.0 162.50,290.0 163.29,290.0 163.29,278.7 163.90,278.7 163.90,306.0 165.30,306.0 165.30,317.1 167.00,317.1 167.00,310.9 167.64,310.9 167.64,319.6 169.60,319.6 169.60,317.1 171.20,317.1 171.20,296.8 172.00,296.8 172.00,312.0 173.40,312.0 173.40,317.1 176.10,317.1 176.10,310.0 177.60,310.0 177.60,296.8 178.40,296.8 178.40,296.8 181.40,296.8 181.40,307.7 183.00,307.7 183.00,321.1 185.90,321.1 185.90,319.6 187.00,319.6 187.00,310.9 187.70,310.9 187.70,317.1 190.10,317.1 190.10,307.7 190.80,307.7 190.80,315.5 192.60,315.5 192.60,313.0 194.00,313.0 194.00,296.8 194.80,296.8 194.80,310.0 197.90,310.0 197.90,282.6 198.51,282.6 198.51,300.0 199.40,300.0 199.40,308.0 202.50,308.0 202.50,307.7 203.30,307.7 203.30,315.5 206.60,315.5 206.60,296.8 207.30,296.8 207.30,305.0 209.20,305.0 209.20,289.0 210.00,289.0 210.00,302.0 211.39,302.0 211.39,312.0 213.60,312.0 213.60,307.0 214.40,307.0 214.40,317.1 217.60,317.1 217.60,310.0 219.60,310.0 219.60,305.0 220.40,305.0 220.40,312.0 223.30,312.0 223.30,307.7 224.09,307.7 224.09,313.0 226.40,313.0 226.40,312.5 227.20,312.5 227.20,319.6 229.40,319.6 229.40,296.8 230.10,296.8 230.10,312.0 231.20,312.0 231.20,319.6 233.60,319.6 233.60,315.5 235.60,315.5 235.60,310.0 236.40,310.0 236.40,317.1 239.00,317.1 239.00,295.2 239.73,295.2 239.73,310.0 241.60,310.0 241.60,300.0 242.40,300.0 242.40,312.0 244.50,312.0 244.50,304.6 245.30,304.6 245.30,312.0 247.60,312.0 247.60,300.0 248.40,300.0 248.40,304.6 250.00,304.6 250.00,315.5 252.30,315.5 252.30,312.5 253.61,312.5 253.61,300.0 254.36,300.0 254.36,308.0 256.60,308.0 256.60,295.0 257.39,295.0 257.39,310.0 258.70,310.0 258.70,315.5 261.60,315.5 261.60,310.0 262.40,310.0 262.40,313.0 264.41,313.0 264.41,304.6 265.20,304.6 265.20,307.7 266.51,307.7 266.51,315.5 267.70,315.5 267.70,310.0 268.40,310.0 268.40,314.0 269.90,314.0 269.90,319.6 272.10,319.6 272.10,315.5 273.60,315.5 273.60,307.7 274.30,307.7 274.30,312.0 275.70,312.0 275.70,300.0 276.40,300.0 276.40,310.0 278.60,310.0 278.60,306.0 279.40,306.0 279.40,312.0 281.60,312.0 281.60,298.3 282.30,298.3 282.30,310.0 283.40,310.0 283.40,314.0 285.40,314.0 285.40,317.1 288.40,317.1 288.40,312.0 290.20,312.0 290.20,310.9 292.10,310.9 292.10,306.0 292.90,306.0 292.90,312.0 295.10,312.0 295.10,300.0 296.50,300.0 296.50,270.0 297.08,270.0 297.08,298.0 297.90,298.0 297.90,312.0 299.40,312.0 299.40,317.1 302.30,317.1 302.30,296.8 303.90,296.8 303.90,285.8 304.66,285.8 304.66,285.8 305.65,285.8 305.65,300.0 306.40,300.0 306.40,312.0 308.60,312.0 308.60,308.0 310.10,308.0 310.10,300.0 310.65,300.0 310.65,310.0 311.36,310.0 311.36,317.1 313.30,317.1 313.30,260.7 313.85,260.7 313.85,290.0 314.44,290.0 314.44,305.0 315.40,305.0 315.40,310.0 318.10,310.0 318.10,303.0 319.27,303.0 319.27,299.0 320.00,299.0 320.00,305.0 321.40,305.0 321.40,312.0 322.90,312.0 322.90,317.1 325.10,317.1 325.10,312.0 325.90,312.0 325.90,315.5 328.10,315.5 328.10,308.0 328.90,308.0 328.90,312.0 332.10,312.0 332.10,304.6 332.80,304.6 332.80,310.0 334.13,310.0 334.13,262.3 334.52,262.3 334.52,290.0 335.20,290.0 335.20,314.0 337.60,314.0 337.60,306.0 339.60,306.0 339.60,304.6 340.40,304.6 340.40,310.0 343.10,310.0 343.10,296.8 343.80,296.8 343.80,310.9 344.74,310.9 344.74,317.1 346.14,317.1 346.14,310.0 346.90,310.0 346.90,314.0 348.70,314.0 348.70,308.0 349.40,308.0 349.40,317.1 350.85,317.1 350.85,312.0 351.40,312.0 351.40,319.6 352.50,319.6" fill="none" stroke="#acacac" stroke-width="1.0" stroke-linejoin="round"/>
<line x1="75.4" y1="218.5" x2="75.4" y2="322.4" stroke="#c0c0c0" stroke-width="1.1"/>
<line x1="96.4" y1="218.5" x2="96.4" y2="322.4" stroke="#cbcbcb" stroke-width="2.1"/>
<line x1="116.9" y1="218.5" x2="116.9" y2="322.4" stroke="#cbcbcb" stroke-width="2.1"/>
<line x1="134.1" y1="218.5" x2="134.1" y2="322.4" stroke="#cbcbcb" stroke-width="2.1"/>
<line x1="151.7" y1="218.5" x2="151.7" y2="322.4" stroke="#cbcbcb" stroke-width="2.1"/>
<line x1="168.7" y1="218.5" x2="168.7" y2="322.4" stroke="#cbcbcb" stroke-width="2.1"/>
<line x1="185.4" y1="218.5" x2="185.4" y2="322.4" stroke="#cbcbcb" stroke-width="2.1"/>
<line x1="202" y1="218.5" x2="202" y2="322.4" stroke="#cbcbcb" stroke-width="2.1"/>
<line x1="216.8" y1="218.5" x2="216.8" y2="322.4" stroke="#cbcbcb" stroke-width="2.1"/>
<line x1="230.7" y1="218.5" x2="230.7" y2="322.4" stroke="#cbcbcb" stroke-width="2.1"/>
<line x1="245.1" y1="218.5" x2="245.1" y2="322.4" stroke="#cbcbcb" stroke-width="2.1"/>
<line x1="259.1" y1="218.5" x2="259.1" y2="322.4" stroke="#cbcbcb" stroke-width="2.1"/>
<line x1="273" y1="218.5" x2="273" y2="322.4" stroke="#cbcbcb" stroke-width="2.1"/>
<line x1="286.9" y1="218.5" x2="286.9" y2="322.4" stroke="#cbcbcb" stroke-width="2.1"/>
<line x1="300.9" y1="218.5" x2="300.9" y2="322.4" stroke="#cbcbcb" stroke-width="2.1"/>
<line x1="312.7" y1="218.5" x2="312.7" y2="322.4" stroke="#cbcbcb" stroke-width="2.1"/>
<line x1="323.9" y1="218.5" x2="323.9" y2="322.4" stroke="#cbcbcb" stroke-width="2.1"/>
<line x1="335.2" y1="218.5" x2="335.2" y2="322.4" stroke="#cbcbcb" stroke-width="2.1"/>
<line x1="345.6" y1="218.5" x2="345.6" y2="322.4" stroke="#cbcbcb" stroke-width="2.1"/>
<line x1="353.1" y1="218.5" x2="353.1" y2="322.4" stroke="#cbcbcb" stroke-width="2.1"/>
<line x1="371" y1="218.5" x2="371" y2="322.4" stroke="#c0c0c0" stroke-width="1.1"/>
<polygon points="79.3,276.6 81.7,276.6 81.9,297 79.3,297" fill="#4a4a4a"/>
<polygon points="328.5,253.5 330.1,254.5 331,295 328.7,295" fill="#4a4a4a"/>
<polyline points="213.6,296 214.3,248.1 215,300" fill="none" stroke="#777" stroke-width="0.9" stroke-linejoin="round"/>
<polyline points="247.3,300 248,256 248.7,300" fill="none" stroke="#777" stroke-width="0.9" stroke-linejoin="round"/>
<polyline points="255.1,300 255.8,256 256.4,290" fill="none" stroke="#777" stroke-width="0.9" stroke-linejoin="round"/>
<polyline points="313.0,300 313.7,260.7 314.4,305" fill="none" stroke="#777" stroke-width="0.9" stroke-linejoin="round"/>
<polyline points="75.90,322.0 76.25,320.1 77.47,322.0 77.82,318.2 79.05,322.0 79.40,317.5 80.64,322.0 80.99,320.1 81.77,322.0 82.12,320.5 83.47,322.0 83.82,320.5 85.24,322.0 85.59,320.5 86.99,322.0 87.34,321.6 88.50,322.0 88.85,321.6 89.64,322.0 89.99,319.0 90.77,322.0 91.12,319.0 92.57,322.0 92.92,318.2 93.50,322.0 93.85,318.2 95.14,322.0 95.49,321.2 96.64,322.0 96.99,321.2 97.62,322.0 97.97,320.9 99.33,322.0 99.68,319.0 100.58,322.0 100.93,320.9 101.89,322.0 102.24,317.5 103.57,322.0 103.92,319.4 105.04,322.0 105.39,319.8 106.76,322.0 107.11,319.0 108.55,322.0 108.90,319.8 109.98,322.0 110.33,321.2 111.74,322.0 112.09,321.6 112.89,322.0 113.24,319.8 114.48,322.0 114.83,320.1 115.55,322.0 115.90,320.9 117.11,322.0 117.46,319.8 118.80,322.0 119.15,317.5 119.85,322.0 120.20,321.2 120.98,322.0 121.33,321.2 122.75,322.0 123.10,318.2 123.80,322.0 124.15,321.6 125.42,322.0 125.77,318.2 127.08,322.0 127.43,320.1 128.46,322.0 128.81,320.9 129.90,322.0 130.25,318.2 130.98,322.0 131.33,319.8 132.59,322.0 132.94,318.2 133.58,322.0 133.93,321.2 134.73,322.0 135.08,319.4 135.78,322.0 136.13,318.2 137.22,322.0 137.57,319.4 138.86,322.0 139.21,319.0 140.01,322.0 140.36,319.0 141.59,322.0 141.94,320.1 142.97,322.0 143.32,319.0 144.35,322.0 144.70,318.2 145.67,322.0 146.02,319.4 146.67,322.0 147.02,321.2 148.41,322.0 148.76,319.0 150.00,322.0 150.35,320.1 151.42,322.0 151.77,321.6 152.57,322.0 152.92,320.9 153.92,322.0 154.27,320.1 155.22,322.0 155.57,319.4 156.41,322.0 156.76,318.2 158.00,322.0 158.35,317.5 159.26,322.0 159.61,319.0 160.72,322.0 161.07,320.1 162.08,322.0 162.43,319.8 163.36,322.0 163.71,319.0 164.31,322.0 164.66,319.4 165.61,322.0 165.96,319.0 166.85,322.0 167.20,318.2 168.57,322.0 168.92,320.9 170.33,322.0 170.68,317.5 171.43,322.0 171.78,320.9 173.00,322.0 173.35,319.4 174.22,322.0 174.57,320.9 175.93,322.0 176.28,320.1 177.29,322.0 177.64,319.0 178.70,322.0 179.05,320.1 180.48,322.0 180.83,320.1 181.72,322.0 182.07,321.6 183.03,322.0 183.38,319.8 184.41,322.0 184.76,319.4 185.99,322.0 186.34,319.0 187.79,322.0 188.14,320.1 189.44,322.0 189.79,318.2 191.09,322.0 191.44,319.8 192.52,322.0 192.87,320.1 193.48,322.0 193.83,319.0 194.79,322.0 195.14,321.6 196.03,322.0 196.38,321.2 197.25,322.0 197.60,319.4 198.98,322.0 199.33,320.1 200.19,322.0 200.54,321.6 201.76,322.0 202.11,320.9 203.52,322.0 203.87,319.4 205.23,322.0 205.58,320.1 206.94,322.0 207.29,320.9 207.96,322.0 208.31,317.5 209.38,322.0 209.73,321.2 210.28,322.0 210.63,320.9 211.58,322.0 211.93,321.6 212.65,322.0 213.00,320.5 213.61,322.0 213.96,321.2 214.52,322.0 214.87,320.5 215.59,322.0 215.94,319.0 216.58,322.0 216.93,319.0 217.96,322.0 218.31,318.2 218.91,322.0 219.26,321.6 219.83,322.0 220.18,321.6 221.39,322.0 221.74,319.0 223.13,322.0 223.48,320.9 224.50,322.0 224.85,321.2 226.17,322.0 226.52,320.1 227.79,322.0 228.14,319.8 229.45,322.0 229.80,321.2 230.54,322.0 230.89,317.5 232.11,322.0 232.46,321.2 233.47,322.0 233.82,320.9 234.92,322.0 235.27,319.4 236.42,322.0 236.77,318.2 237.41,322.0 237.76,317.5 238.69,322.0 239.04,318.2 239.80,322.0 240.15,320.1 240.79,322.0 241.14,320.9 242.37,322.0 242.72,317.5 243.56,322.0 243.91,319.0 244.77,322.0 245.12,319.0 245.89,322.0 246.24,317.5 247.09,322.0 247.44,321.6 248.56,322.0 248.91,317.5 249.67,322.0 250.02,320.1 251.09,322.0 251.44,319.4 252.52,322.0 252.87,318.2 253.64,322.0 253.99,319.0 255.16,322.0 255.51,317.5 256.58,322.0 256.93,318.2 258.19,322.0 258.54,320.5 259.85,322.0 260.20,318.2 261.46,322.0 261.81,320.9 262.39,322.0 262.74,321.6 263.51,322.0 263.86,320.5 264.54,322.0 264.89,317.5 266.11,322.0 266.46,318.2 267.29,322.0 267.64,321.6 269.08,322.0 269.43,321.2 270.65,322.0 271.00,321.6 272.41,322.0 272.76,320.9 273.76,322.0 274.11,319.0 274.76,322.0 275.11,318.2 275.66,322.0 276.01,321.2 276.85,322.0 277.20,320.5 278.43,322.0 278.78,319.8 280.08,322.0 280.43,318.2 281.50,322.0 281.85,321.6 282.94,322.0 283.29,319.4 284.68,322.0 285.03,320.1 286.00,322.0 286.35,317.5 287.68,322.0 288.03,319.4 288.72,322.0 289.07,319.0 289.95,322.0 290.30,319.0 291.25,322.0 291.60,319.8 292.73,322.0 293.08,321.6 294.15,322.0 294.50,319.4 295.59,322.0 295.94,319.0 297.34,322.0 297.69,320.9 299.06,322.0 299.41,319.8 300.79,322.0 301.14,319.0 302.47,322.0 302.82,320.9 303.63,322.0 303.98,320.1 304.64,322.0 304.99,321.2 305.91,322.0 306.26,318.2 307.17,322.0 307.52,319.4 308.53,322.0 308.88,319.4 310.15,322.0 310.50,320.5 311.38,322.0 311.73,319.8 312.88,322.0 313.23,320.5 313.81,322.0 314.16,320.5 314.85,322.0 315.20,318.2 315.87,322.0 316.22,321.2 317.03,322.0 317.38,319.4 318.21,322.0 318.56,319.0 319.66,322.0 320.01,319.4 321.05,322.0 321.40,319.0 321.98,322.0 322.33,318.2 323.21,322.0 323.56,319.8 324.99,322.0 325.34,318.2 326.05,322.0 326.40,320.5 327.35,322.0 327.70,320.5 328.71,322.0 329.06,320.1 329.63,322.0 329.98,319.0 330.56,322.0 330.91,319.8 332.24,322.0 332.59,319.8 333.77,322.0 334.12,319.0 335.49,322.0 335.84,321.2 337.07,322.0 337.42,320.1 338.03,322.0 338.38,317.5 339.76,322.0 340.11,320.1 340.96,322.0 341.31,317.5 341.88,322.0 342.23,317.5 343.55,322.0 343.90,317.5 344.93,322.0 345.28,319.4 346.59,322.0 346.94,320.5 348.01,322.0 348.36,321.6 348.92,322.0 349.27,318.2 350.49,322.0 350.84,321.6 351.72,322.0 352.07,320.1" fill="none" stroke="#2a2a2a" stroke-width="0.55"/>
<polyline points="75.80,312.0 76.16,312.0 76.16,315.5 78.10,315.5 78.10,300.0 79.20,300.0 79.20,276.4 79.90,276.4 79.90,276.4 82.01,276.4 82.01,321.1 83.34,321.1 83.34,265.4 84.09,265.4 84.09,319.6 85.70,319.6 85.70,315.5 86.40,315.5 86.40,321.1 89.60,321.1 89.60,317.1 90.40,317.1 90.40,321.1 93.10,321.1 93.10,317.1 94.80,317.1 94.80,303.8 95.44,303.8 95.44,321.6 97.90,321.6 97.90,298.3 98.66,298.3 98.66,321.1 99.90,321.1 99.90,321.1 101.40,321.1 101.40,321.1 105.00,321.1 105.00,298.3 105.73,298.3 105.73,319.6 108.10,319.6 108.10,314.0 109.60,314.0 109.60,300.0 110.30,300.0 110.30,317.1 111.42,317.1 111.42,300.0 112.16,300.0 112.16,287.4 112.73,287.4 112.73,319.6 115.20,319.6 115.20,278.7 115.72,278.7 115.72,321.8 118.90,321.8 118.90,295.2 119.51,295.2 119.51,321.1 121.10,321.1 121.10,315.5 122.34,315.5 122.34,306.2 122.94,306.2 122.94,321.1 124.60,321.1 124.60,318.4 125.40,318.4 125.40,320.5 129.40,320.5 129.40,288.9 130.01,288.9 130.01,312.5 130.90,312.5 130.90,318.7 133.23,318.7 133.23,321.8 136.40,321.8 136.40,309.3 137.16,309.3 137.16,319.6 138.84,319.6 138.84,289.7 139.44,289.7 139.44,310.0 140.49,310.0 140.49,273.2 140.94,273.2 140.94,300.0 141.90,300.0 141.90,317.1 145.10,317.1 145.10,305.0 145.80,305.0 145.80,312.0 147.41,312.0 147.41,285.8 148.01,285.8 148.01,310.0 149.20,310.0 149.20,301.0 149.80,301.0 149.80,319.6 150.85,319.6 150.85,310.0 151.40,310.0 151.40,319.6 155.20,319.6 155.20,310.9 156.00,310.9 156.00,319.6 157.70,319.6 157.70,295.2 158.30,295.2 158.30,319.6 160.60,319.6 160.60,312.0 162.30,312.0 162.30,281.0 163.09,281.0 163.09,292.0 164.30,292.0 164.30,321.1 166.60,321.1 166.60,317.1 167.40,317.1 167.40,321.6 170.40,321.6 170.40,298.3 171.20,298.3 171.20,321.8 173.60,321.8 173.60,315.5 174.40,315.5 174.40,320.5 177.50,320.5 177.50,282.6 178.14,282.6 178.14,307.7 179.09,307.7 179.09,312.0 180.40,312.0 180.40,314.0 182.20,314.0 182.20,321.1 184.60,321.1 184.60,319.6 185.40,319.6 185.40,321.1 188.50,321.1 188.50,306.2 189.23,306.2 189.23,319.6 190.40,319.6 190.40,320.2 193.64,320.2 193.64,314.0 194.40,314.0 194.40,319.6 196.34,319.6 196.34,284.2 197.09,284.2 197.09,306.0 199.50,306.0 199.50,274.8 200.08,274.8 200.08,304.6 200.80,304.6 200.80,317.1 201.90,317.1 201.90,321.1 204.20,321.1 204.20,318.7 205.60,318.7 205.60,314.0 206.40,314.0 206.40,321.1 208.20,321.1 208.20,295.2 208.90,295.2 208.90,305.0 210.70,305.0 210.70,300.0 212.00,300.0 212.00,292.0 212.58,292.0 212.58,321.1 213.35,321.1 213.35,278.0 213.90,278.0 213.90,292.0 215.15,292.0 215.15,321.8 216.90,321.8 216.90,319.6 218.14,319.6 218.14,300.0 219.41,300.0 219.41,285.0 220.01,285.0 220.01,285.0 220.65,285.0 220.65,297.0 221.30,297.0 221.30,320.2 223.60,320.2 223.60,319.6 224.40,319.6 224.40,321.1 226.40,321.1 226.40,321.3 228.82,321.3 228.82,315.5 229.30,315.5 229.30,321.6 230.40,321.6 230.40,321.8 233.50,321.8 233.50,318.7 234.23,318.7 234.23,321.1 235.84,321.1 235.84,298.3 236.44,298.3 236.44,315.5 237.77,315.5 237.77,274.0 238.37,274.0 238.37,310.0 239.40,310.0 239.40,319.6 241.34,319.6 241.34,304.6 241.94,304.6 241.94,312.0 243.06,312.0 243.06,289.7 243.51,289.7 243.51,319.6 244.30,319.6 244.30,321.1 246.10,321.1 246.10,319.6 246.99,319.6 246.99,290.5 248.40,290.5 248.40,290.0 249.16,290.0 249.16,305.0 250.33,305.0 250.33,307.7 251.37,307.7 251.37,319.6 252.91,319.6 252.91,310.0 254.00,310.0 254.00,290.5 254.51,290.5 254.51,310.0 256.10,310.0 256.10,282.0 256.78,282.0 256.78,281.0 257.14,281.0 257.14,320.2 258.26,320.2 258.26,305.0 260.40,305.0 260.40,292.0 261.01,292.0 261.01,298.3 261.65,298.3 261.65,305.0 263.10,305.0 263.10,298.3 263.80,298.3 263.80,310.0 265.20,310.0 265.20,304.6 265.80,304.6 265.80,312.5 267.20,312.5 267.20,306.0 267.86,306.0 267.86,312.5 269.26,312.5 269.26,301.5 269.74,301.5 269.74,321.3 270.93,321.3 270.93,319.6 271.55,319.6 271.55,241.2 271.85,241.2 271.85,319.6 272.29,319.6 272.29,321.1 274.10,321.1 274.10,292.0 274.80,292.0 274.80,305.0 276.20,305.0 276.20,300.0 277.06,300.0 277.06,256.0 277.51,256.0 277.51,292.0 278.15,292.0 278.15,295.0 279.60,295.0 279.60,292.0 280.84,292.0 280.84,281.0 281.44,281.0 281.44,298.3 282.40,298.3 282.40,305.0 284.13,305.0 284.13,278.7 284.64,278.7 284.64,321.8 285.60,321.8 285.60,321.8 288.70,321.8 288.70,304.6 289.37,304.6 289.37,314.0 290.70,314.0 290.70,312.0 291.36,312.0 291.36,320.2 293.40,320.2 293.40,304.6 295.00,304.6 295.00,290.5 295.58,290.5 295.58,300.0 297.30,300.0 297.30,270.0 297.94,270.0 297.94,292.0 298.71,292.0 298.71,270.0 299.01,270.0 299.01,304.6 299.65,304.6 299.65,321.6 301.60,321.6 301.60,319.6 303.60,319.6 303.60,306.0 304.30,306.0 304.30,317.1 306.20,317.1 306.20,279.5 306.84,279.5 306.84,321.8 308.17,321.8 308.17,310.0 309.41,310.0 309.41,287.4 310.01,287.4 310.01,300.0 310.74,300.0 310.74,316.5 311.51,316.5 311.51,321.1 314.10,321.1 314.10,316.5 315.60,316.5 315.60,310.0 317.20,310.0 317.20,299.0 317.84,299.0 317.84,321.3 319.17,321.3 319.17,305.0 320.34,305.0 320.34,301.5 321.10,301.5 321.10,320.2 322.79,320.2 322.79,310.0 323.40,310.0 323.40,318.7 326.20,318.7 326.20,310.0 327.20,310.0 327.20,300.0 328.27,300.0 328.27,253.0 329.00,253.0 329.00,256.0 330.44,256.0 330.44,295.2 331.21,295.2 331.21,296.8 332.09,296.8 332.09,310.0 333.18,310.0 333.18,321.1 334.16,321.1 334.16,262.3 334.58,262.3 334.58,300.0 335.18,300.0 335.18,321.3 336.60,321.3 336.60,310.0 337.84,310.0 337.84,269.3 338.56,269.3 338.56,296.8 339.73,296.8 339.73,314.0 340.80,314.0 340.80,317.1 342.34,317.1 342.34,251.3 342.94,251.3 342.94,292.0 343.65,292.0 343.65,303.0 344.30,303.0 344.30,310.0 346.10,310.0 346.10,305.0 346.99,305.0 346.99,296.8 347.44,296.8 347.44,321.8 349.10,321.8 349.10,294.4 349.74,294.4 349.74,321.3 350.86,321.3 350.86,298.3 351.37,298.3 351.37,319.6 352.30,319.6 352.30,321.1 353.00,321.1" fill="none" stroke="#1e1e1e" stroke-width="1.0" stroke-linejoin="round"/>
<text x="85.9" y="222.60000000000002" font-size="5.2" text-anchor="middle" fill="#3a3a3a">1</text>
<text x="106.7" y="222.60000000000002" font-size="5.2" text-anchor="middle" fill="#3a3a3a">2</text>
<text x="125.5" y="222.60000000000002" font-size="5.2" text-anchor="middle" fill="#3a3a3a">3</text>
<text x="142.9" y="222.60000000000002" font-size="5.2" text-anchor="middle" fill="#3a3a3a">4</text>
<text x="160.2" y="222.60000000000002" font-size="5.2" text-anchor="middle" fill="#3a3a3a">5</text>
<text x="177.1" y="222.60000000000002" font-size="5.2" text-anchor="middle" fill="#3a3a3a">6</text>
<text x="193.7" y="222.60000000000002" font-size="5.2" text-anchor="middle" fill="#3a3a3a">7</text>
<text x="209.4" y="222.60000000000002" font-size="5.2" text-anchor="middle" fill="#3a3a3a">8</text>
<text x="223.8" y="222.60000000000002" font-size="5.2" text-anchor="middle" fill="#3a3a3a">9</text>
<text x="237.9" y="222.60000000000002" font-size="5.2" text-anchor="middle" fill="#3a3a3a">10</text>
<text x="252.1" y="222.60000000000002" font-size="5.2" text-anchor="middle" fill="#3a3a3a">11</text>
<text x="266.1" y="222.60000000000002" font-size="5.2" text-anchor="middle" fill="#3a3a3a">12</text>
<text x="279.9" y="222.60000000000002" font-size="5.2" text-anchor="middle" fill="#3a3a3a">13</text>
<text x="293.9" y="222.60000000000002" font-size="5.2" text-anchor="middle" fill="#3a3a3a">14</text>
<text x="306.8" y="222.60000000000002" font-size="5.2" text-anchor="middle" fill="#3a3a3a">15</text>
<text x="318.3" y="222.60000000000002" font-size="5.2" text-anchor="middle" fill="#3a3a3a">16</text>
<text x="329.5" y="222.60000000000002" font-size="5.2" text-anchor="middle" fill="#3a3a3a">17</text>
<text x="340.4" y="222.60000000000002" font-size="5.2" text-anchor="middle" fill="#3a3a3a">18</text>
<text x="349.4" y="222.60000000000002" font-size="5.2" text-anchor="middle" fill="#3a3a3a">19</text>
<text x="362.1" y="222.60000000000002" font-size="5.2" text-anchor="middle" fill="#3a3a3a">X</text>
<line x1="71.60000000000001" y1="224.1" x2="75.4" y2="224.1" stroke="#222" stroke-width="1.1"/>
<text x="64.2" y="229.4" font-size="13" font-weight="bold" text-anchor="end" textLength="26.9" lengthAdjust="spacingAndGlyphs">17.0</text>
<line x1="71.60000000000001" y1="241.2" x2="75.4" y2="241.2" stroke="#222" stroke-width="1.1"/>
<text x="64.2" y="247.3" font-size="13" font-weight="bold" text-anchor="end" textLength="26.9" lengthAdjust="spacingAndGlyphs">15.0</text>
<line x1="71.60000000000001" y1="268.5" x2="75.4" y2="268.5" stroke="#222" stroke-width="1.1"/>
<text x="64.2" y="274.3" font-size="13" font-weight="bold" text-anchor="end" textLength="26.9" lengthAdjust="spacingAndGlyphs">10.0</text>
<line x1="71.60000000000001" y1="295.8" x2="75.4" y2="295.8" stroke="#222" stroke-width="1.1"/>
<text x="64.2" y="301.6" font-size="13" font-weight="bold" text-anchor="end" textLength="18.8" lengthAdjust="spacingAndGlyphs">5.0</text>
<line x1="75.4" y1="322.4" x2="371" y2="322.4" stroke="#aaa" stroke-width="0.8"/>
<text x="77.9" y="327.4" font-size="3.4" font-weight="bold" fill="#444" textLength="15.1" lengthAdjust="spacingAndGlyphs">0 50 100 150</text>
<text x="86.7" y="330.0" font-size="3.4" font-weight="bold" fill="#444" textLength="6.7" lengthAdjust="spacingAndGlyphs">150 200</text>
<text x="98.9" y="327.4" font-size="3.4" font-weight="bold" fill="#444" textLength="14.8" lengthAdjust="spacingAndGlyphs">0 50 100 150</text>
<text x="107.5" y="330.0" font-size="3.4" font-weight="bold" fill="#444" textLength="6.6" lengthAdjust="spacingAndGlyphs">150 200</text>
<text x="119.4" y="327.4" font-size="3.4" font-weight="bold" fill="#444" textLength="12.4" lengthAdjust="spacingAndGlyphs">0 50 100 150</text>
<text x="126.6" y="330.0" font-size="3.4" font-weight="bold" fill="#444" textLength="5.5" lengthAdjust="spacingAndGlyphs">150 200</text>
<text x="136.6" y="327.4" font-size="3.4" font-weight="bold" fill="#444" textLength="12.7" lengthAdjust="spacingAndGlyphs">0 50 100 150</text>
<text x="144.0" y="330.0" font-size="3.4" font-weight="bold" fill="#444" textLength="5.6" lengthAdjust="spacingAndGlyphs">150 200</text>
<text x="154.2" y="327.4" font-size="3.4" font-weight="bold" fill="#444" textLength="12.2" lengthAdjust="spacingAndGlyphs">0 50 100 150</text>
<text x="161.3" y="330.0" font-size="3.4" font-weight="bold" fill="#444" textLength="5.4" lengthAdjust="spacingAndGlyphs">150 200</text>
<text x="171.2" y="327.4" font-size="3.4" font-weight="bold" fill="#444" textLength="12.0" lengthAdjust="spacingAndGlyphs">0 50 100 150</text>
<text x="178.2" y="330.0" font-size="3.4" font-weight="bold" fill="#444" textLength="5.3" lengthAdjust="spacingAndGlyphs">150 200</text>
<text x="187.9" y="327.4" font-size="3.4" font-weight="bold" fill="#444" textLength="12.0" lengthAdjust="spacingAndGlyphs">0 50 100 150</text>
<text x="194.9" y="330.0" font-size="3.4" font-weight="bold" fill="#444" textLength="5.3" lengthAdjust="spacingAndGlyphs">150 200</text>
<text x="204.5" y="327.4" font-size="3.4" font-weight="bold" fill="#444" textLength="10.7" lengthAdjust="spacingAndGlyphs">0 50 100 150</text>
<text x="210.7" y="330.0" font-size="3.4" font-weight="bold" fill="#444" textLength="4.7" lengthAdjust="spacingAndGlyphs">150 200</text>
<text x="219.3" y="327.4" font-size="3.4" font-weight="bold" fill="#444" textLength="10.0" lengthAdjust="spacingAndGlyphs">0 50 100 150</text>
<text x="225.1" y="330.0" font-size="3.4" font-weight="bold" fill="#444" textLength="4.4" lengthAdjust="spacingAndGlyphs">150 200</text>
<text x="233.2" y="327.4" font-size="3.4" font-weight="bold" fill="#444" textLength="10.4" lengthAdjust="spacingAndGlyphs">0 50 100 150</text>
<text x="239.2" y="330.0" font-size="3.4" font-weight="bold" fill="#444" textLength="4.6" lengthAdjust="spacingAndGlyphs">150 200</text>
<text x="247.6" y="327.4" font-size="3.4" font-weight="bold" fill="#444" textLength="10.1" lengthAdjust="spacingAndGlyphs">0 50 100 150</text>
<text x="253.5" y="330.0" font-size="3.4" font-weight="bold" fill="#444" textLength="4.5" lengthAdjust="spacingAndGlyphs">150 200</text>
<text x="261.6" y="327.4" font-size="3.4" font-weight="bold" fill="#444" textLength="10.0" lengthAdjust="spacingAndGlyphs">0 50 100 150</text>
<text x="267.4" y="330.0" font-size="3.4" font-weight="bold" fill="#444" textLength="4.4" lengthAdjust="spacingAndGlyphs">150 200</text>
<text x="275.5" y="327.4" font-size="3.4" font-weight="bold" fill="#444" textLength="10.0" lengthAdjust="spacingAndGlyphs">0 50 100 150</text>
<text x="281.3" y="330.0" font-size="3.4" font-weight="bold" fill="#444" textLength="4.4" lengthAdjust="spacingAndGlyphs">150 200</text>
<text x="289.4" y="327.4" font-size="3.4" font-weight="bold" fill="#444" textLength="10.1" lengthAdjust="spacingAndGlyphs">0 50 100 150</text>
<text x="295.3" y="330.0" font-size="3.4" font-weight="bold" fill="#444" textLength="4.5" lengthAdjust="spacingAndGlyphs">150 200</text>
<text x="303.4" y="327.4" font-size="3.4" font-weight="bold" fill="#444" textLength="8.5" lengthAdjust="spacingAndGlyphs">0 50 100 150</text>
<text x="308.4" y="330.0" font-size="3.4" font-weight="bold" fill="#444" textLength="3.8" lengthAdjust="spacingAndGlyphs">150 200</text>
<text x="315.2" y="327.4" font-size="3.4" font-weight="bold" fill="#444" textLength="8.1" lengthAdjust="spacingAndGlyphs">0 50 100 150</text>
<text x="319.9" y="330.0" font-size="3.4" font-weight="bold" fill="#444" textLength="3.6" lengthAdjust="spacingAndGlyphs">150 200</text>
<text x="326.4" y="327.4" font-size="3.4" font-weight="bold" fill="#444" textLength="8.1" lengthAdjust="spacingAndGlyphs">0 50 100 150</text>
<text x="331.1" y="330.0" font-size="3.4" font-weight="bold" fill="#444" textLength="3.6" lengthAdjust="spacingAndGlyphs">150 200</text>
<text x="337.7" y="327.4" font-size="3.4" font-weight="bold" fill="#444" textLength="7.5" lengthAdjust="spacingAndGlyphs">0 50 100 150</text>
<text x="342.1" y="330.0" font-size="3.4" font-weight="bold" fill="#444" textLength="3.3" lengthAdjust="spacingAndGlyphs">150 200</text>
<text x="348.1" y="327.4" font-size="3.4" font-weight="bold" fill="#444" textLength="5.4" lengthAdjust="spacingAndGlyphs">0 50 100 150</text>
<text x="351.2" y="330.0" font-size="3.4" font-weight="bold" fill="#444" textLength="2.4" lengthAdjust="spacingAndGlyphs">150 200</text>
<text x="355.6" y="327.4" font-size="3.4" font-weight="bold" fill="#444" textLength="12.9" lengthAdjust="spacingAndGlyphs">0 50 100 150</text>
<text x="363.1" y="330.0" font-size="3.4" font-weight="bold" fill="#444" textLength="5.7" lengthAdjust="spacingAndGlyphs">150 200</text>
<line x1="76.4" y1="412.2" x2="372.3" y2="412.2" stroke="#2a2a2a" stroke-width="1.4"/>
<polyline points="77.30,478.6 78.14,478.6 78.14,476.2 78.90,476.2 78.90,479.6 81.09,479.6 81.09,480.0 83.60,480.0 83.60,477.5 86.90,477.5 86.90,477.2 87.70,477.2 87.70,477.5 90.40,477.5 90.40,478.3 94.10,478.3 94.10,470.0 95.34,470.0 95.34,463.3 96.09,463.3 96.09,472.0 97.84,472.0 97.84,443.3 98.59,443.3 98.59,462.0 99.86,462.0 99.86,470.0 101.10,470.0 101.10,478.6 105.30,478.6 105.30,478.3 106.61,478.3 106.61,465.0 107.84,465.0 107.84,448.3 108.44,448.3 108.44,465.0 109.56,465.0 109.56,433.3 110.10,433.3 110.10,450.0 111.90,450.0 111.90,428.3 112.66,428.3 112.66,455.0 113.89,455.0 113.89,470.0 115.16,470.0 115.16,472.0 116.40,472.0 116.40,477.5 118.60,477.5 118.60,461.7 119.40,461.7 119.40,476.2 122.60,476.2 122.60,471.7 123.40,471.7 123.40,478.6 126.80,478.6 126.80,470.0 127.90,470.0 127.90,455.0 128.62,455.0 128.62,430.8 129.20,430.8 129.20,430.8 130.80,430.8 130.80,460.0 131.90,460.0 131.90,463.3 134.16,463.3 134.16,474.6 136.80,474.6 136.80,463.3 137.59,463.3 137.59,474.6 139.34,474.6 139.34,465.0 140.10,465.0 140.10,477.5 143.10,477.5 143.10,473.0 145.10,473.0 145.10,468.3 145.90,468.3 145.90,477.5 148.40,477.5 148.40,466.7 149.16,466.7 149.16,476.2 151.80,476.2 151.80,465.0 152.59,465.0 152.59,474.6 155.10,474.6 155.10,473.4 156.90,473.4 156.90,465.0 158.40,465.0 158.40,450.0 159.04,450.0 159.04,458.0 159.87,458.0 159.87,461.7 160.90,461.7 160.90,461.7 163.70,461.7 163.70,455.0 164.30,455.0 164.30,462.0 165.39,462.0 165.39,463.3 166.70,463.3 166.70,470.0 168.40,470.0 168.40,474.6 169.90,474.6 169.90,477.5 171.36,477.5 171.36,478.3 173.40,478.3 173.40,468.3 174.20,468.3 174.20,477.5 176.60,477.5 176.60,472.0 178.60,472.0 178.60,458.0 179.49,458.0 179.49,453.3 179.94,453.3 179.94,462.0 181.34,462.0 181.34,455.0 182.03,455.0 182.03,468.0 183.50,468.0 183.50,466.7 184.20,466.7 184.20,471.7 185.90,471.7 185.90,474.6 189.30,474.6 189.30,471.7 190.10,471.7 190.10,477.5 192.60,477.5 192.60,476.2 194.10,476.2 194.10,470.0 195.20,470.0 195.20,461.7 195.80,461.7 195.80,470.0 196.99,470.0 196.99,466.7 197.59,466.7 197.59,470.0 200.10,470.0 200.10,458.3 200.90,458.3 200.90,470.0 202.40,470.0 202.40,470.0 204.16,470.0 204.16,476.2 206.40,476.2 206.40,465.0 207.64,465.0 207.64,453.3 208.36,453.3 208.36,465.0 210.11,465.0 210.11,455.0 210.71,455.0 210.71,468.0 211.90,468.0 211.90,458.3 212.59,458.3 212.59,465.0 214.34,465.0 214.34,446.3 215.09,446.3 215.09,460.0 216.30,460.0 216.30,465.0 217.40,465.0 217.40,470.0 219.34,470.0 219.34,453.3 220.26,453.3 220.26,443.3 220.80,443.3 220.80,465.0 221.89,465.0 221.89,474.6 223.16,474.6 223.16,478.3 224.40,478.3 224.40,478.3 226.40,478.3 226.40,478.3 229.10,478.3 229.10,472.0 230.90,472.0 230.90,455.0 231.51,455.0 231.51,468.0 232.40,468.0 232.40,474.6 233.90,474.6 233.90,476.2 237.10,476.2 237.10,472.0 238.60,472.0 238.60,468.0 240.10,468.0 240.10,463.3 240.90,463.3 240.90,470.0 243.10,470.0 243.10,468.0 243.90,468.0 243.90,470.0 245.80,470.0 245.80,476.2 247.60,476.2 247.60,468.0 249.10,468.0 249.10,455.0 249.90,455.0 249.90,463.3 251.30,463.3 251.30,472.0 252.30,472.0 252.30,478.3 254.10,478.3 254.10,472.0 255.60,472.0 255.60,468.0 256.84,468.0 256.84,445.0 257.44,445.0 257.44,460.0 258.30,460.0 258.30,472.0 259.40,472.0 259.40,477.5 262.10,477.5 262.10,474.6 264.30,474.6 264.30,473.4 265.09,473.4 265.09,478.6 266.40,478.6 266.40,478.6 268.60,478.6 268.60,476.2 270.10,476.2 270.10,470.0 271.80,470.0 271.80,451.7 272.50,451.7 272.50,470.0 275.10,470.0 275.10,460.0 275.80,460.0 275.80,470.0 277.60,470.0 277.60,465.0 278.40,465.0 278.40,470.0 280.09,470.0 280.09,476.2 282.10,476.2 282.10,468.0 283.41,468.0 283.41,466.7 284.16,466.7 284.16,474.6 285.91,474.6 285.91,471.7 286.70,471.7 286.70,476.2 289.34,476.2 289.34,473.4 290.09,473.4 290.09,477.5 292.10,477.5 292.10,465.0 293.41,465.0 293.41,453.3 294.16,453.3 294.16,465.0 296.10,465.0 296.10,460.0 297.60,460.0 297.60,440.0 298.30,440.0 298.30,455.0 299.39,455.0 299.39,458.0 300.70,458.0 300.70,470.0 302.90,470.0 302.90,469.0 303.70,469.0 303.70,477.5 305.64,477.5 305.64,472.6 306.40,472.6 306.40,477.5 308.60,477.5 308.60,470.0 310.10,470.0 310.10,465.0 311.60,465.0 311.60,460.0 312.70,460.0 312.70,453.2 313.40,453.2 313.40,468.0 314.83,468.0 314.83,469.0 316.00,469.0 316.00,474.6 317.70,474.6 317.70,468.0 318.84,468.0 318.84,463.8 319.59,463.8 319.59,470.0 320.90,470.0 320.90,474.6 322.84,474.6 322.84,470.0 323.83,470.0 323.83,465.6 324.50,465.6 324.50,474.6 326.71,474.6 326.71,472.6 328.10,472.6 328.10,470.0 329.60,470.0 329.60,462.0 330.70,462.0 330.70,455.0 331.40,455.0 331.40,462.0 332.73,462.0 332.73,470.0 334.41,470.0 334.41,456.8 335.04,456.8 335.04,470.0 336.00,470.0 336.00,474.6 338.20,474.6 338.20,465.6 339.00,465.6 339.00,470.0 340.40,470.0 340.40,472.6 342.64,472.6 342.64,462.0 343.84,462.0 343.84,446.2 344.44,446.2 344.44,460.0 345.30,460.0 345.30,468.0 346.40,468.0 346.40,474.6 348.20,474.6 348.20,470.0 348.90,470.0 348.90,472.0 350.40,472.0 350.40,476.2 351.90,476.2 351.90,477.5 354.70,477.5 354.70,461.2 355.37,461.2 355.37,461.5 356.40,461.5 356.40,461.5 358.81,461.5 358.81,470.0 359.30,470.0" fill="none" stroke="#acacac" stroke-width="1.0" stroke-linejoin="round"/>
<line x1="76.4" y1="375.7" x2="76.4" y2="481.2" stroke="#c0c0c0" stroke-width="1.1"/>
<line x1="98.2" y1="375.7" x2="98.2" y2="481.2" stroke="#cbcbcb" stroke-width="2.1"/>
<line x1="118.5" y1="375.7" x2="118.5" y2="481.2" stroke="#cbcbcb" stroke-width="2.1"/>
<line x1="135.9" y1="375.7" x2="135.9" y2="481.2" stroke="#cbcbcb" stroke-width="2.1"/>
<line x1="153.5" y1="375.7" x2="153.5" y2="481.2" stroke="#cbcbcb" stroke-width="2.1"/>
<line x1="170.8" y1="375.7" x2="170.8" y2="481.2" stroke="#cbcbcb" stroke-width="2.1"/>
<line x1="187" y1="375.7" x2="187" y2="481.2" stroke="#cbcbcb" stroke-width="2.1"/>
<line x1="203.2" y1="375.7" x2="203.2" y2="481.2" stroke="#cbcbcb" stroke-width="2.1"/>
<line x1="218.1" y1="375.7" x2="218.1" y2="481.2" stroke="#cbcbcb" stroke-width="2.1"/>
<line x1="232" y1="375.7" x2="232" y2="481.2" stroke="#cbcbcb" stroke-width="2.1"/>
<line x1="246.8" y1="375.7" x2="246.8" y2="481.2" stroke="#cbcbcb" stroke-width="2.1"/>
<line x1="260.9" y1="375.7" x2="260.9" y2="481.2" stroke="#cbcbcb" stroke-width="2.1"/>
<line x1="274.7" y1="375.7" x2="274.7" y2="481.2" stroke="#cbcbcb" stroke-width="2.1"/>
<line x1="288.8" y1="375.7" x2="288.8" y2="481.2" stroke="#cbcbcb" stroke-width="2.1"/>
<line x1="301.5" y1="375.7" x2="301.5" y2="481.2" stroke="#cbcbcb" stroke-width="2.1"/>
<line x1="314" y1="375.7" x2="314" y2="481.2" stroke="#cbcbcb" stroke-width="2.1"/>
<line x1="325.7" y1="375.7" x2="325.7" y2="481.2" stroke="#cbcbcb" stroke-width="2.1"/>
<line x1="336.3" y1="375.7" x2="336.3" y2="481.2" stroke="#cbcbcb" stroke-width="2.1"/>
<line x1="346.7" y1="375.7" x2="346.7" y2="481.2" stroke="#cbcbcb" stroke-width="2.1"/>
<line x1="354.4" y1="375.7" x2="354.4" y2="481.2" stroke="#cbcbcb" stroke-width="2.1"/>
<line x1="372.3" y1="375.7" x2="372.3" y2="481.2" stroke="#c0c0c0" stroke-width="1.1"/>
<polygon points="361.9,400 364.3,400 364.3,452 361.9,452" fill="#a0a0a0"/>
<polygon points="329.3,440 329.6,401 331.2,400 331.6,440" fill="#3a3a3a"/>
<polyline points="358.8,479 359.9,476 359.9,436.5 361.7,436.5 361.7,399.4 364.5,399.4 364.5,453 365.3,455 366.2,462 367.8,466 368.7,473 369.6,477.5 370.5,469 371.4,466" fill="none" stroke="#3c3c3c" stroke-width="0.9" stroke-linejoin="round"/>
<polyline points="76.90,480.8 77.25,477.5 78.53,480.8 78.88,477.5 80.28,480.8 80.63,479.2 81.92,480.8 82.27,480.0 83.59,480.8 83.94,480.0 85.03,480.8 85.38,478.1 86.08,480.8 86.43,478.6 87.10,480.8 87.45,480.5 88.86,480.8 89.21,480.5 90.56,480.8 90.91,480.5 91.68,480.8 92.03,480.0 93.15,480.8 93.50,478.6 94.74,480.8 95.09,479.7 96.11,480.8 96.46,477.5 97.13,480.8 97.48,480.2 98.32,480.8 98.67,480.2 99.28,480.8 99.63,477.5 100.35,480.8 100.70,479.4 102.04,480.8 102.39,479.7 103.80,480.8 104.15,479.7 105.07,480.8 105.42,478.1 106.47,480.8 106.82,480.5 107.38,480.8 107.73,478.1 108.99,480.8 109.34,480.0 110.73,480.8 111.08,480.0 112.46,480.8 112.81,480.5 113.42,480.8 113.77,480.2 114.49,480.8 114.84,478.9 115.50,480.8 115.85,477.5 117.03,480.8 117.38,478.6 118.76,480.8 119.11,480.0 119.66,480.8 120.01,479.4 121.44,480.8 121.79,478.9 122.39,480.8 122.74,478.1 124.18,480.8 124.53,479.4 125.87,480.8 126.22,480.2 127.04,480.8 127.39,480.0 128.49,480.8 128.84,479.2 130.04,480.8 130.39,480.2 131.58,480.8 131.93,477.5 132.78,480.8 133.13,480.2 134.44,480.8 134.79,479.2 135.81,480.8 136.16,479.2 136.93,480.8 137.28,479.4 138.48,480.8 138.83,478.1 139.70,480.8 140.05,480.2 141.42,480.8 141.77,477.5 143.02,480.8 143.37,480.2 144.79,480.8 145.14,480.2 146.08,480.8 146.43,477.5 147.13,480.8 147.48,480.0 148.34,480.8 148.69,478.9 149.51,480.8 149.86,480.0 150.77,480.8 151.12,478.1 152.32,480.8 152.67,477.5 153.30,480.8 153.65,480.5 154.55,480.8 154.90,479.4 156.25,480.8 156.60,478.9 157.71,480.8 158.06,480.2 159.09,480.8 159.44,480.0 160.77,480.8 161.12,479.7 162.49,480.8 162.84,480.5 163.39,480.8 163.74,479.7 165.01,480.8 165.36,478.6 166.63,480.8 166.98,479.2 168.27,480.8 168.62,478.1 169.96,480.8 170.31,480.0 171.68,480.8 172.03,479.4 172.58,480.8 172.93,480.2 173.71,480.8 174.06,479.7 175.06,480.8 175.41,480.2 176.28,480.8 176.63,478.1 177.93,480.8 178.28,477.5 179.71,480.8 180.06,480.0 180.99,480.8 181.34,479.7 182.66,480.8 183.01,479.4 184.10,480.8 184.45,480.5 185.69,480.8 186.04,479.2 186.88,480.8 187.23,480.5 188.22,480.8 188.57,479.7 189.75,480.8 190.10,477.5 191.00,480.8 191.35,477.5 191.94,480.8 192.29,479.4 193.61,480.8 193.96,479.2 194.92,480.8 195.27,479.7 196.42,480.8 196.77,480.0 197.53,480.8 197.88,479.2 198.95,480.8 199.30,480.0 200.71,480.8 201.06,480.2 201.80,480.8 202.15,479.2 203.47,480.8 203.82,479.2 205.16,480.8 205.51,479.4 206.73,480.8 207.08,478.1 208.21,480.8 208.56,478.1 209.26,480.8 209.61,480.0 210.98,480.8 211.33,480.0 212.40,480.8 212.75,477.5 213.82,480.8 214.17,479.7 215.07,480.8 215.42,478.6 216.18,480.8 216.53,479.4 217.36,480.8 217.71,479.7 218.59,480.8 218.94,480.0 219.55,480.8 219.90,479.4 220.85,480.8 221.20,478.9 222.16,480.8 222.51,480.5 223.92,480.8 224.27,479.4 224.91,480.8 225.26,478.6 225.83,480.8 226.18,480.2 227.25,480.8 227.60,478.9 229.00,480.8 229.35,478.9 230.09,480.8 230.44,478.1 231.44,480.8 231.79,480.5 233.24,480.8 233.59,479.4 234.96,480.8 235.31,478.9 236.60,480.8 236.95,479.4 237.66,480.8 238.01,478.6 238.90,480.8 239.25,477.5 240.10,480.8 240.45,478.9 241.32,480.8 241.67,477.5 242.68,480.8 243.03,477.5 243.99,480.8 244.34,479.7 245.10,480.8 245.45,479.7 246.88,480.8 247.23,478.9 248.35,480.8 248.70,477.5 249.82,480.8 250.17,479.4 251.30,480.8 251.65,480.2 252.79,480.8 253.14,478.9 254.42,480.8 254.77,478.1 255.74,480.8 256.09,480.2 257.05,480.8 257.40,480.0 258.51,480.8 258.86,477.5 260.12,480.8 260.47,480.0 261.50,480.8 261.85,480.0 263.06,480.8 263.41,480.5 264.84,480.8 265.19,478.9 266.10,480.8 266.45,477.5 267.39,480.8 267.74,479.4 268.51,480.8 268.86,480.5 269.62,480.8 269.97,480.2 270.82,480.8 271.17,479.4 272.43,480.8 272.78,479.4 273.62,480.8 273.97,480.5 275.15,480.8 275.50,480.2 276.81,480.8 277.16,478.6 278.37,480.8 278.72,480.5 280.08,480.8 280.43,477.5 281.43,480.8 281.78,478.1 282.99,480.8 283.34,479.2 284.08,480.8 284.43,477.5 285.63,480.8 285.98,479.4 286.91,480.8 287.26,480.0 288.55,480.8 288.90,479.7 290.19,480.8 290.54,478.6 291.12,480.8 291.47,477.5 292.46,480.8 292.81,479.7 293.87,480.8 294.22,480.2 295.21,480.8 295.56,479.7 296.72,480.8 297.07,478.9 298.03,480.8 298.38,479.2 299.05,480.8 299.40,477.5 300.30,480.8 300.65,478.9 301.73,480.8 302.08,479.2 302.67,480.8 303.02,480.2 304.09,480.8 304.44,480.2 305.34,480.8 305.69,479.2 307.02,480.8 307.37,478.9 308.20,480.8 308.55,478.6 309.38,480.8 309.73,479.7 310.93,480.8 311.28,478.6 312.20,480.8 312.55,480.2 313.47,480.8 313.82,478.1 315.04,480.8 315.39,478.6 316.22,480.8 316.57,477.5 317.65,480.8 318.00,477.5 318.67,480.8 319.02,480.0 319.71,480.8 320.06,478.6 321.39,480.8 321.74,479.4 322.82,480.8 323.17,478.6 324.01,480.8 324.36,480.2 325.15,480.8 325.50,479.2 326.10,480.8 326.45,478.6 327.10,480.8 327.45,477.5 328.85,480.8 329.20,480.2 329.80,480.8 330.15,479.2 331.13,480.8 331.48,478.1 332.75,480.8 333.10,480.2 334.07,480.8 334.42,479.4 335.35,480.8 335.70,480.5 336.78,480.8 337.13,479.4 338.12,480.8 338.47,479.7 339.68,480.8 340.03,478.6 340.67,480.8 341.02,479.2 341.74,480.8 342.09,479.4 342.78,480.8 343.13,480.2 344.27,480.8 344.62,479.7 345.88,480.8 346.23,479.2 347.49,480.8 347.84,478.6 348.76,480.8 349.11,480.2 350.51,480.8 350.86,479.2 351.45,480.8 351.80,480.5 352.56,480.8 352.91,478.1 353.70,480.8 354.05,479.2 354.82,480.8 355.17,479.7 355.82,480.8 356.17,479.2 356.85,480.8 357.20,477.5 358.57,480.8 358.92,477.5 359.81,480.8 360.16,479.4 361.30,480.8 361.65,480.5 362.78,480.8 363.13,480.0 363.99,480.8 364.34,477.5 365.68,480.8 366.03,477.5 366.94,480.8 367.29,479.2 368.22,480.8 368.57,480.2 369.49,480.8 369.84,479.7 370.41,480.8 370.76,478.1" fill="none" stroke="#2a2a2a" stroke-width="0.55"/>
<polyline points="77.50,480.3 78.60,480.3 78.60,480.0 80.60,480.0 80.60,479.8 82.80,479.8 82.80,479.0 83.97,479.0 83.97,460.0 84.65,460.0 84.65,445.0 85.01,445.0 85.01,479.6 85.90,479.6 85.90,479.9 87.40,479.9 87.40,480.0 90.60,480.0 90.60,479.6 91.40,479.6 91.40,480.3 94.60,480.3 94.60,477.5 96.10,477.5 96.10,470.0 96.71,470.0 96.71,479.4 98.11,479.4 98.11,470.0 99.06,470.0 99.06,451.7 99.51,451.7 99.51,470.0 100.40,470.0 100.40,479.4 101.90,479.4 101.90,479.6 104.60,479.6 104.60,470.0 106.10,470.0 106.10,432.5 106.74,432.5 106.74,453.3 107.51,453.3 107.51,470.0 108.30,470.0 108.30,479.6 109.91,479.6 109.91,465.0 111.14,465.0 111.14,424.2 111.80,424.2 111.80,450.0 112.71,450.0 112.71,473.4 113.60,473.4 113.60,477.5 115.40,477.5 115.40,479.6 117.20,479.6 117.20,470.0 117.90,470.0 117.90,479.4 120.90,479.4 120.90,478.3 121.70,478.3 121.70,479.4 125.10,479.4 125.10,466.7 125.90,466.7 125.90,479.4 128.10,479.4 128.10,470.0 129.34,470.0 129.34,453.3 129.94,453.3 129.94,460.0 131.06,460.0 131.06,455.0 131.70,455.0 131.70,470.0 133.40,470.0 133.40,473.4 134.94,473.4 134.94,479.4 136.60,479.4 136.60,478.6 137.70,478.6 137.70,476.2 138.40,476.2 138.40,479.4 140.20,479.4 140.20,466.7 140.90,466.7 140.90,477.5 142.30,477.5 142.30,478.3 143.40,478.3 143.40,479.4 146.80,479.4 146.80,470.0 147.60,470.0 147.60,477.5 150.10,477.5 150.10,468.3 150.90,468.3 150.90,479.4 153.40,479.4 153.40,478.3 154.20,478.3 154.20,479.4 156.60,479.4 156.60,470.0 158.10,470.0 158.10,460.0 159.06,460.0 159.06,437.5 159.66,437.5 159.66,455.0 160.65,455.0 160.65,460.0 161.40,460.0 161.40,470.0 163.41,470.0 163.41,445.0 164.20,445.0 164.20,461.7 165.80,461.7 165.80,470.0 166.99,470.0 166.99,462.5 167.60,462.5 167.60,462.5 169.01,462.5 169.01,479.4 169.90,479.4 169.90,479.4 172.10,479.4 172.10,478.6 174.30,478.6 174.30,473.4 175.10,473.4 175.10,479.6 177.14,479.6 177.14,465.0 178.06,465.0 178.06,450.0 178.66,450.0 178.66,458.0 179.80,458.0 179.80,460.0 180.90,460.0 180.90,472.0 182.70,472.0 182.70,470.0 183.40,470.0 183.40,478.3 185.09,478.3 185.09,479.4 188.40,479.4 188.40,466.7 189.16,466.7 189.16,477.5 190.39,477.5 190.39,478.3 191.70,478.3 191.70,479.4 193.30,479.4 193.30,479.4 195.10,479.4 195.10,474.6 196.60,474.6 196.60,460.0 197.91,460.0 197.91,438.3 198.51,438.3 198.51,450.0 199.49,450.0 199.49,442.5 199.94,442.5 199.94,465.0 200.74,465.0 200.74,473.4 201.60,473.4 201.60,479.4 202.70,479.4 202.70,479.4 205.10,479.4 205.10,458.3 205.86,458.3 205.86,473.4 207.47,473.4 207.47,465.0 208.50,465.0 208.50,447.5 209.16,447.5 209.16,460.0 210.39,460.0 210.39,479.6 212.14,479.6 212.14,465.0 213.41,465.0 213.41,443.3 214.01,443.3 214.01,455.0 214.80,455.0 214.80,456.0 215.65,456.0 215.65,478.3 216.36,478.3 216.36,479.4 217.60,479.4 217.60,479.4 220.10,479.4 220.10,460.0 221.06,460.0 221.06,430.0 221.57,430.0 221.57,479.6 222.60,479.6 222.60,479.6 225.10,479.6 225.10,479.6 227.60,479.6 227.60,478.6 229.30,478.6 229.30,473.4 230.26,473.4 230.26,440.8 230.80,440.8 230.80,470.0 231.90,470.0 231.90,478.3 234.20,478.3 234.20,479.4 236.80,479.4 236.80,466.7 237.53,466.7 237.53,470.0 239.00,470.0 239.00,453.3 239.66,453.3 239.66,470.0 240.80,470.0 240.80,473.0 242.20,473.0 242.20,465.0 243.20,465.0 243.20,451.7 243.86,451.7 243.86,463.3 245.09,463.3 245.09,479.4 247.90,479.4 247.90,460.0 249.00,460.0 249.00,424.2 249.42,424.2 249.42,461.7 250.10,461.7 250.10,473.4 252.61,473.4 252.61,470.0 253.30,470.0 253.30,477.5 255.10,477.5 255.10,466.7 256.06,466.7 256.06,450.0 256.58,450.0 256.58,445.0 256.85,445.0 256.85,479.6 257.76,479.6 257.76,470.0 258.40,470.0 258.40,479.4 261.60,479.4 261.60,477.5 263.60,477.5 263.60,473.0 264.40,473.0 264.40,479.4 267.60,479.4 267.60,477.2 268.40,477.2 268.40,478.6 271.40,478.6 271.40,470.0 272.43,470.0 272.43,458.3 272.94,458.3 272.94,479.4 274.60,479.4 274.60,477.5 276.80,477.5 276.80,458.3 277.44,458.3 277.44,470.0 278.56,470.0 278.56,441.7 279.20,441.7 279.20,478.3 281.11,478.3 281.11,470.0 282.34,470.0 282.34,452.5 282.94,452.5 282.94,470.0 285.10,470.0 285.10,468.3 285.90,468.3 285.90,479.4 287.40,479.4 287.40,479.4 289.90,479.4 289.90,479.6 292.60,479.6 292.60,468.0 294.30,468.0 294.30,455.0 295.61,455.0 295.61,432.5 296.36,432.5 296.36,450.0 297.97,450.0 297.97,445.0 299.00,445.0 299.00,439.2 299.51,439.2 299.51,460.0 300.30,460.0 300.30,476.2 301.40,476.2 301.40,479.4 302.90,479.4 302.90,479.4 305.60,479.4 305.60,477.5 306.40,477.5 306.40,479.4 309.10,479.4 309.10,465.6 310.20,465.6 310.20,450.0 310.99,450.0 310.99,432.0 311.47,432.0 311.47,462.0 312.73,462.0 312.73,448.0 313.15,448.0 313.15,477.5 313.90,477.5 313.90,479.4 315.40,479.4 315.40,479.4 317.90,479.4 317.90,455.9 318.57,455.9 318.57,470.0 319.76,470.0 319.76,467.3 320.30,467.3 320.30,475.3 321.40,475.3 321.40,479.4 324.20,479.4 324.20,476.2 325.00,476.2 325.00,479.4 328.50,479.4 328.50,465.6 329.53,465.6 329.53,440.0 330.15,440.0 330.15,400.3 330.51,400.3 330.51,425.0 331.09,425.0 331.09,440.0 331.36,440.0 331.36,448.0 331.80,448.0 331.80,470.0 332.74,470.0 332.74,477.5 335.10,477.5 335.10,470.0 335.80,470.0 335.80,479.4 337.34,479.4 337.34,472.6 338.90,472.6 338.90,430.3 339.63,430.3 339.63,465.0 340.58,465.0 340.58,470.0 341.84,470.0 341.84,460.0 342.76,460.0 342.76,446.2 343.40,446.2 343.40,465.0 344.80,465.0 344.80,470.0 345.90,470.0 345.90,479.4 347.70,479.4 347.70,454.1 348.30,454.1 348.30,454.1 349.24,454.1 349.24,475.3 350.08,475.3 350.08,454.1 350.35,454.1 350.35,454.1 350.94,454.1 350.94,470.0 352.20,470.0 352.20,467.3 352.77,467.3 352.77,479.4 353.80,479.4 353.80,480.0 355.40,480.0 355.40,480.0 358.20,480.0 358.20,479.8 358.60,479.8" fill="none" stroke="#1e1e1e" stroke-width="1.0" stroke-linejoin="round"/>
<line x1="76.4" y1="375.7" x2="372.3" y2="375.7" stroke="#aaa" stroke-width="0.8"/>
<line x1="76.4" y1="381.4" x2="372.3" y2="381.4" stroke="#333" stroke-width="1.2"/>
<text x="87.3" y="380.3" font-size="5.2" text-anchor="middle" fill="#3a3a3a">1</text>
<text x="108.3" y="380.3" font-size="5.2" text-anchor="middle" fill="#3a3a3a">2</text>
<text x="127.2" y="380.3" font-size="5.2" text-anchor="middle" fill="#3a3a3a">3</text>
<text x="144.7" y="380.3" font-size="5.2" text-anchor="middle" fill="#3a3a3a">4</text>
<text x="162.2" y="380.3" font-size="5.2" text-anchor="middle" fill="#3a3a3a">5</text>
<text x="178.9" y="380.3" font-size="5.2" text-anchor="middle" fill="#3a3a3a">6</text>
<text x="195.1" y="380.3" font-size="5.2" text-anchor="middle" fill="#3a3a3a">7</text>
<text x="210.6" y="380.3" font-size="5.2" text-anchor="middle" fill="#3a3a3a">8</text>
<text x="225.1" y="380.3" font-size="5.2" text-anchor="middle" fill="#3a3a3a">9</text>
<text x="239.4" y="380.3" font-size="5.2" text-anchor="middle" fill="#3a3a3a">10</text>
<text x="253.8" y="380.3" font-size="5.2" text-anchor="middle" fill="#3a3a3a">11</text>
<text x="267.8" y="380.3" font-size="5.2" text-anchor="middle" fill="#3a3a3a">12</text>
<text x="281.8" y="380.3" font-size="5.2" text-anchor="middle" fill="#3a3a3a">13</text>
<text x="295.1" y="380.3" font-size="5.2" text-anchor="middle" fill="#3a3a3a">14</text>
<text x="307.8" y="380.3" font-size="5.2" text-anchor="middle" fill="#3a3a3a">15</text>
<text x="319.9" y="380.3" font-size="5.2" text-anchor="middle" fill="#3a3a3a">16</text>
<text x="331.0" y="380.3" font-size="5.2" text-anchor="middle" fill="#3a3a3a">17</text>
<text x="341.5" y="380.3" font-size="5.2" text-anchor="middle" fill="#3a3a3a">18</text>
<text x="350.5" y="380.3" font-size="5.2" text-anchor="middle" fill="#3a3a3a">19</text>
<text x="363.4" y="380.3" font-size="5.2" text-anchor="middle" fill="#3a3a3a">X</text>
<line x1="72.60000000000001" y1="385.6" x2="76.4" y2="385.6" stroke="#222" stroke-width="1.1"/>
<text x="65.0" y="390.6" font-size="13" font-weight="bold" text-anchor="end" textLength="26.9" lengthAdjust="spacingAndGlyphs">20.0</text>
<line x1="72.60000000000001" y1="412.0" x2="76.4" y2="412.0" stroke="#222" stroke-width="1.1"/>
<text x="65.0" y="417.2" font-size="13" font-weight="bold" text-anchor="end" textLength="26.9" lengthAdjust="spacingAndGlyphs">15.0</text>
<line x1="72.60000000000001" y1="433.6" x2="76.4" y2="433.6" stroke="#222" stroke-width="1.1"/>
<text x="65.0" y="439.5" font-size="13" font-weight="bold" text-anchor="end" textLength="26.9" lengthAdjust="spacingAndGlyphs">10.0</text>
<line x1="72.60000000000001" y1="457.3" x2="76.4" y2="457.3" stroke="#222" stroke-width="1.1"/>
<text x="65.0" y="463.1" font-size="13" font-weight="bold" text-anchor="end" textLength="18.8" lengthAdjust="spacingAndGlyphs">5.0</text>
<line x1="76.4" y1="481.2" x2="372.3" y2="481.2" stroke="#aaa" stroke-width="0.8"/>
<text x="78.9" y="486.2" font-size="3.4" font-weight="bold" fill="#444" textLength="15.7" lengthAdjust="spacingAndGlyphs">0 50 100 150</text>
<text x="88.1" y="488.8" font-size="3.4" font-weight="bold" fill="#444" textLength="7.0" lengthAdjust="spacingAndGlyphs">150 200</text>
<text x="100.7" y="486.2" font-size="3.4" font-weight="bold" fill="#444" textLength="14.6" lengthAdjust="spacingAndGlyphs">0 50 100 150</text>
<text x="109.2" y="488.8" font-size="3.4" font-weight="bold" fill="#444" textLength="6.5" lengthAdjust="spacingAndGlyphs">150 200</text>
<text x="121.0" y="486.2" font-size="3.4" font-weight="bold" fill="#444" textLength="12.5" lengthAdjust="spacingAndGlyphs">0 50 100 150</text>
<text x="128.3" y="488.8" font-size="3.4" font-weight="bold" fill="#444" textLength="5.6" lengthAdjust="spacingAndGlyphs">150 200</text>
<text x="138.4" y="486.2" font-size="3.4" font-weight="bold" fill="#444" textLength="12.7" lengthAdjust="spacingAndGlyphs">0 50 100 150</text>
<text x="145.8" y="488.8" font-size="3.4" font-weight="bold" fill="#444" textLength="5.6" lengthAdjust="spacingAndGlyphs">150 200</text>
<text x="156.0" y="486.2" font-size="3.4" font-weight="bold" fill="#444" textLength="12.5" lengthAdjust="spacingAndGlyphs">0 50 100 150</text>
<text x="163.3" y="488.8" font-size="3.4" font-weight="bold" fill="#444" textLength="5.5" lengthAdjust="spacingAndGlyphs">150 200</text>
<text x="173.3" y="486.2" font-size="3.4" font-weight="bold" fill="#444" textLength="11.7" lengthAdjust="spacingAndGlyphs">0 50 100 150</text>
<text x="180.1" y="488.8" font-size="3.4" font-weight="bold" fill="#444" textLength="5.2" lengthAdjust="spacingAndGlyphs">150 200</text>
<text x="189.5" y="486.2" font-size="3.4" font-weight="bold" fill="#444" textLength="11.7" lengthAdjust="spacingAndGlyphs">0 50 100 150</text>
<text x="196.3" y="488.8" font-size="3.4" font-weight="bold" fill="#444" textLength="5.2" lengthAdjust="spacingAndGlyphs">150 200</text>
<text x="205.7" y="486.2" font-size="3.4" font-weight="bold" fill="#444" textLength="10.7" lengthAdjust="spacingAndGlyphs">0 50 100 150</text>
<text x="212.0" y="488.8" font-size="3.4" font-weight="bold" fill="#444" textLength="4.8" lengthAdjust="spacingAndGlyphs">150 200</text>
<text x="220.6" y="486.2" font-size="3.4" font-weight="bold" fill="#444" textLength="10.0" lengthAdjust="spacingAndGlyphs">0 50 100 150</text>
<text x="226.4" y="488.8" font-size="3.4" font-weight="bold" fill="#444" textLength="4.4" lengthAdjust="spacingAndGlyphs">150 200</text>
<text x="234.5" y="486.2" font-size="3.4" font-weight="bold" fill="#444" textLength="10.7" lengthAdjust="spacingAndGlyphs">0 50 100 150</text>
<text x="240.7" y="488.8" font-size="3.4" font-weight="bold" fill="#444" textLength="4.7" lengthAdjust="spacingAndGlyphs">150 200</text>
<text x="249.3" y="486.2" font-size="3.4" font-weight="bold" fill="#444" textLength="10.2" lengthAdjust="spacingAndGlyphs">0 50 100 150</text>
<text x="255.2" y="488.8" font-size="3.4" font-weight="bold" fill="#444" textLength="4.5" lengthAdjust="spacingAndGlyphs">150 200</text>
<text x="263.4" y="486.2" font-size="3.4" font-weight="bold" fill="#444" textLength="9.9" lengthAdjust="spacingAndGlyphs">0 50 100 150</text>
<text x="269.2" y="488.8" font-size="3.4" font-weight="bold" fill="#444" textLength="4.4" lengthAdjust="spacingAndGlyphs">150 200</text>
<text x="277.2" y="486.2" font-size="3.4" font-weight="bold" fill="#444" textLength="10.2" lengthAdjust="spacingAndGlyphs">0 50 100 150</text>
<text x="283.1" y="488.8" font-size="3.4" font-weight="bold" fill="#444" textLength="4.5" lengthAdjust="spacingAndGlyphs">150 200</text>
<text x="291.3" y="486.2" font-size="3.4" font-weight="bold" fill="#444" textLength="9.1" lengthAdjust="spacingAndGlyphs">0 50 100 150</text>
<text x="296.6" y="488.8" font-size="3.4" font-weight="bold" fill="#444" textLength="4.1" lengthAdjust="spacingAndGlyphs">150 200</text>
<text x="304.0" y="486.2" font-size="3.4" font-weight="bold" fill="#444" textLength="9.0" lengthAdjust="spacingAndGlyphs">0 50 100 150</text>
<text x="309.2" y="488.8" font-size="3.4" font-weight="bold" fill="#444" textLength="4.0" lengthAdjust="spacingAndGlyphs">150 200</text>
<text x="316.5" y="486.2" font-size="3.4" font-weight="bold" fill="#444" textLength="8.4" lengthAdjust="spacingAndGlyphs">0 50 100 150</text>
<text x="321.4" y="488.8" font-size="3.4" font-weight="bold" fill="#444" textLength="3.7" lengthAdjust="spacingAndGlyphs">150 200</text>
<text x="328.2" y="486.2" font-size="3.4" font-weight="bold" fill="#444" textLength="7.6" lengthAdjust="spacingAndGlyphs">0 50 100 150</text>
<text x="332.7" y="488.8" font-size="3.4" font-weight="bold" fill="#444" textLength="3.4" lengthAdjust="spacingAndGlyphs">150 200</text>
<text x="338.8" y="486.2" font-size="3.4" font-weight="bold" fill="#444" textLength="7.5" lengthAdjust="spacingAndGlyphs">0 50 100 150</text>
<text x="343.2" y="488.8" font-size="3.4" font-weight="bold" fill="#444" textLength="3.3" lengthAdjust="spacingAndGlyphs">150 200</text>
<text x="349.2" y="486.2" font-size="3.4" font-weight="bold" fill="#444" textLength="5.5" lengthAdjust="spacingAndGlyphs">0 50 100 150</text>
<text x="352.4" y="488.8" font-size="3.4" font-weight="bold" fill="#444" textLength="2.5" lengthAdjust="spacingAndGlyphs">150 200</text>
<text x="356.9" y="486.2" font-size="3.4" font-weight="bold" fill="#444" textLength="12.9" lengthAdjust="spacingAndGlyphs">0 50 100 150</text>
<text x="364.4" y="488.8" font-size="3.4" font-weight="bold" fill="#444" textLength="5.7" lengthAdjust="spacingAndGlyphs">150 200</text>
<polygon points="270.30,49.40 270.94,51.12 272.77,51.20 271.34,52.34 271.83,54.10 270.30,53.09 268.77,54.10 269.26,52.34 267.83,51.20 269.66,51.12" fill="#111"/>
<polygon points="273.70,212.50 274.34,214.22 276.17,214.30 274.74,215.44 275.23,217.20 273.70,216.19 272.17,217.20 272.66,215.44 271.23,214.30 273.06,214.22" fill="#111"/>
<polygon points="331.00,367.40 331.64,369.12 333.47,369.20 332.04,370.34 332.53,372.10 331.00,371.09 329.47,372.10 329.96,370.34 328.53,369.20 330.36,369.12" fill="#111"/>
<polygon points="363.30,367.30 363.94,369.02 365.77,369.10 364.34,370.24 364.83,372.00 363.30,370.99 361.77,372.00 362.26,370.24 360.83,369.10 362.66,369.02" fill="#111"/>
<rect x="358.3" y="255.3" width="2.3" height="18.7" fill="#3a3a3a"/>
<polyline points="358.2,274 361.6,274 361.6,255.5" fill="none" stroke="#888" stroke-width="0.7"/>
<line x1="355.3" y1="255.5" x2="361.8" y2="255.5" stroke="#333" stroke-width="0.9"/>
<line x1="355.3" y1="259.4" x2="358.3" y2="259.4" stroke="#555" stroke-width="0.7"/>
<polyline points="361.7,255.5 362.3,266 363,298.3 364.8,300 366.4,303 368,305 369.2,309.3 369.5,314" fill="none" stroke="#333" stroke-width="0.85"/>
<line x1="371.9" y1="250" x2="371.9" y2="322" stroke="#c8c8c8" stroke-width="0.9"/>
<line x1="370.4" y1="270" x2="371.9" y2="270" stroke="#999" stroke-width="0.6"/>
<line x1="370.4" y1="289" x2="371.9" y2="289" stroke="#999" stroke-width="0.6"/>
<line x1="370.4" y1="305.4" x2="371.9" y2="305.4" stroke="#999" stroke-width="0.6"/>
<text x="356.2" y="288" font-size="3.4" fill="#666" textLength="5.5" lengthAdjust="spacingAndGlyphs">1.0A</text>
<line x1="356.2" y1="286.2" x2="357.5" y2="286.2" stroke="#777" stroke-width="0.5"/>
</svg>
</body></html>
